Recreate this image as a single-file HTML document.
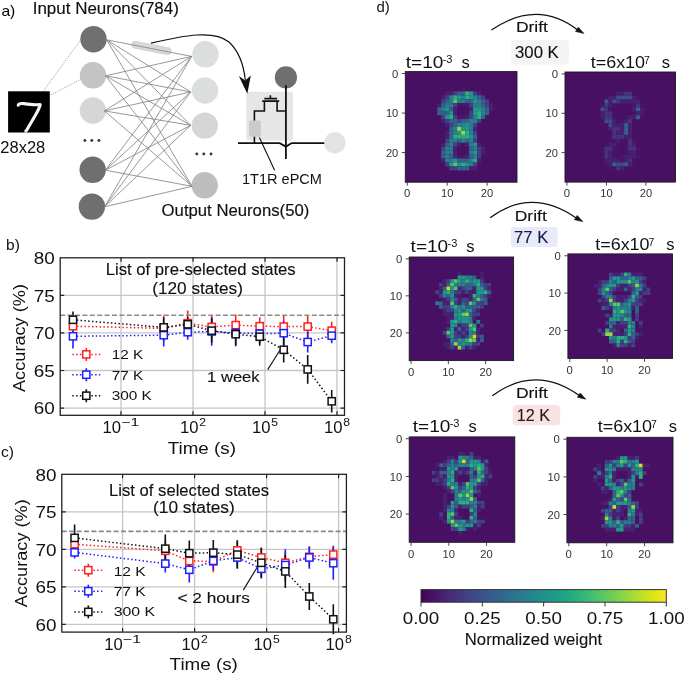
<!DOCTYPE html>
<html><head><meta charset="utf-8"><title>Figure</title>
<style>html,body{margin:0;padding:0;background:#fff;width:685px;height:675px;overflow:hidden}svg{display:block;will-change:transform}text{font-family:"Liberation Sans",sans-serif}</style>
</head><body>
<svg width="685" height="675" viewBox="0 0 685 675" font-family='"Liberation Sans", sans-serif'><text x="1.4" y="15.8" font-size="15.0" fill="#000" text-anchor="start" textLength="13.9" lengthAdjust="spacingAndGlyphs">a)</text>
<text x="32.7" y="13.8" font-size="16.3" fill="#111" text-anchor="start" textLength="146.2" lengthAdjust="spacingAndGlyphs" stroke="#111" stroke-width="0.15">Input Neurons(784)</text>
<line x1="43.8" y1="90.6" x2="80.6" y2="39.9" stroke="#8a8a8a" stroke-width="0.8" stroke-dasharray="1.3 1.3"/>
<line x1="50.5" y1="95.2" x2="82.2" y2="78.5" stroke="#8a8a8a" stroke-width="0.8" stroke-dasharray="1.3 1.3"/>
<rect x="8.1" y="91.3" width="41.7" height="41.2" fill="#000"/>
<path d="M18.2,105.2 C18.5,103.5 21,103.2 24,103.6 C28,104.2 32,104.8 36,104.7 L40.2,104.6 C39.6,107.5 37.5,111.5 35.5,115 C33,119.5 30.5,123.5 28.5,127 C27.5,129 26.5,130.5 25.8,131" fill="none" stroke="#f4f4f4" stroke-width="3.1" stroke-linecap="round" stroke-linejoin="round"/>
<text x="0.3" y="153.3" font-size="16.3" fill="#111" text-anchor="start" textLength="45.0" lengthAdjust="spacingAndGlyphs">28x28</text>
<circle cx="93.5" cy="39.2" r="13.2" fill="#6f706f"/>
<circle cx="93.0" cy="75.3" r="13.2" fill="#c4c4c4"/>
<circle cx="92.9" cy="110.5" r="13.2" fill="#d6d6d6"/>
<circle cx="92.7" cy="169.8" r="13.2" fill="#6e6f6e"/>
<circle cx="91.9" cy="206.6" r="13.2" fill="#6e6f6e"/>
<circle cx="205.5" cy="54.3" r="13.2" fill="#dcdddd"/>
<circle cx="205.0" cy="90.5" r="13.2" fill="#dcdddd"/>
<circle cx="204.8" cy="125.6" r="13.2" fill="#d6d6d6"/>
<circle cx="204.7" cy="185.3" r="13.2" fill="#bebebe"/>
<rect x="131.5" y="44.5" width="40" height="7" rx="3.5" fill="#d8d8d8" stroke="#c8c8c8" stroke-width="0.6" transform="rotate(11.06 151.5 48)"/>
<line x1="106.7" y1="39.8" x2="191.6" y2="56.4" stroke="#858585" stroke-width="0.85"/>
<line x1="106.7" y1="39.8" x2="190.7" y2="92.0" stroke="#858585" stroke-width="0.85"/>
<line x1="106.7" y1="39.8" x2="190.7" y2="125.3" stroke="#858585" stroke-width="0.85"/>
<line x1="106.7" y1="39.8" x2="192.0" y2="186.3" stroke="#858585" stroke-width="0.85"/>
<line x1="105.6" y1="75.8" x2="191.6" y2="56.4" stroke="#858585" stroke-width="0.85"/>
<line x1="105.6" y1="75.8" x2="190.7" y2="92.0" stroke="#858585" stroke-width="0.85"/>
<line x1="105.6" y1="75.8" x2="190.7" y2="125.3" stroke="#858585" stroke-width="0.85"/>
<line x1="105.6" y1="75.8" x2="192.0" y2="186.3" stroke="#858585" stroke-width="0.85"/>
<line x1="104.4" y1="110.9" x2="191.6" y2="56.4" stroke="#858585" stroke-width="0.85"/>
<line x1="104.4" y1="110.9" x2="190.7" y2="92.0" stroke="#858585" stroke-width="0.85"/>
<line x1="104.4" y1="110.9" x2="190.7" y2="125.3" stroke="#858585" stroke-width="0.85"/>
<line x1="104.4" y1="110.9" x2="192.0" y2="186.3" stroke="#858585" stroke-width="0.85"/>
<line x1="105.4" y1="170.2" x2="191.6" y2="56.4" stroke="#858585" stroke-width="0.85"/>
<line x1="105.4" y1="170.2" x2="190.7" y2="92.0" stroke="#858585" stroke-width="0.85"/>
<line x1="105.4" y1="170.2" x2="190.7" y2="125.3" stroke="#858585" stroke-width="0.85"/>
<line x1="105.4" y1="170.2" x2="192.0" y2="186.3" stroke="#858585" stroke-width="0.85"/>
<line x1="104.6" y1="206.8" x2="191.6" y2="56.4" stroke="#858585" stroke-width="0.85"/>
<line x1="104.6" y1="206.8" x2="190.7" y2="92.0" stroke="#858585" stroke-width="0.85"/>
<line x1="104.6" y1="206.8" x2="190.7" y2="125.3" stroke="#858585" stroke-width="0.85"/>
<line x1="104.6" y1="206.8" x2="192.0" y2="186.3" stroke="#858585" stroke-width="0.85"/>
<circle cx="84.9" cy="140.5" r="1.45" fill="#3a3a3a"/>
<circle cx="91.8" cy="140.5" r="1.45" fill="#3a3a3a"/>
<circle cx="98.9" cy="140.5" r="1.45" fill="#3a3a3a"/>
<circle cx="196.8" cy="154.0" r="1.45" fill="#3a3a3a"/>
<circle cx="203.8" cy="154.0" r="1.45" fill="#3a3a3a"/>
<circle cx="211.0" cy="154.0" r="1.45" fill="#3a3a3a"/>
<text x="161.6" y="215.9" font-size="16.2" fill="#111" text-anchor="start" textLength="147.7" lengthAdjust="spacingAndGlyphs" stroke="#111" stroke-width="0.15">Output Neurons(50)</text>
<rect x="246.3" y="91.8" width="46.7" height="48.6" rx="2.5" fill="#e6e6e6"/>
<circle cx="285.9" cy="77.4" r="11.1" fill="#6e6f6e"/>
<path d="M238,143.1 H279.7 L285.9,146.6 L291.7,143.1 H328.7" fill="none" stroke="#111" stroke-width="1.8"/>
<path d="M285.9,85.3 V158.9" fill="none" stroke="#111" stroke-width="1.8"/>
<path d="M254.4,143.1 V111 H264.4 V101.1 M262.2,101.1 H279.2 M277.1,101.1 V111 H285.9 M264.4,98.6 H277.1 M270.4,95.2 V98.6" fill="none" stroke="#111" stroke-width="1.6"/>
<rect x="249.0" y="120.4" width="11.8" height="16.3" rx="1.8" fill="#cbcbcb"/>
<line x1="259.4" y1="137.5" x2="274.6" y2="170.3" stroke="#111" stroke-width="1.1"/>
<circle cx="334.9" cy="142.8" r="10.7" fill="#e3e3e3"/>
<text x="242.0" y="183.6" font-size="14.8" fill="#111" text-anchor="start" textLength="79.9" lengthAdjust="spacingAndGlyphs">1T1R ePCM</text>
<path d="M151,43.2 C184,35.5 214,29.5 229,42 C238.5,51 243.5,63 245.3,80" fill="none" stroke="#111" stroke-width="1.2"/>
<path d="M238.8,76.0 L247.3,93.7 L250.8,75.6 L245.2,80.6 Z" fill="#111"/>
<path d="M121.0,257.8V415.3M193.0,257.8V415.3M265.0,257.8V415.3M337.0,257.8V415.3M60.2,408.1H344.5M60.2,370.5H344.5M60.2,332.9H344.5M60.2,295.4H344.5" stroke="#c6c6c6" stroke-width="1.3" fill="none"/>
<path d="M121.0,415.3v-4M121.0,257.8v4M193.0,415.3v-4M193.0,257.8v4M265.0,415.3v-4M265.0,257.8v4M337.0,415.3v-4M337.0,257.8v4M60.2,408.1h4M344.5,408.1h-4M60.2,370.5h4M344.5,370.5h-4M60.2,332.9h4M344.5,332.9h-4M60.2,295.4h4M344.5,295.4h-4" stroke="#222" stroke-width="1.2" fill="none"/>
<text x="105.7" y="274.9" font-size="16.0" fill="#111" text-anchor="start" textLength="190.0" lengthAdjust="spacingAndGlyphs" stroke="#111" stroke-width="0.12">List of pre-selected states</text>
<text x="152.3" y="293.9" font-size="16.0" fill="#111" text-anchor="start" textLength="90.6" lengthAdjust="spacingAndGlyphs" stroke="#111" stroke-width="0.12">(120 states)</text>
<text x="207.1" y="382.3" font-size="14.2" fill="#111" text-anchor="start" textLength="52.5" lengthAdjust="spacingAndGlyphs" stroke="#111" stroke-width="0.12">1 week</text>
<line x1="267.7" y1="369.6" x2="280.4" y2="349.5" stroke="#111" stroke-width="1.1"/>
<path d="M73.0,317.2V335.2M163.7,315.7V341.2M187.7,310.4V336.0M211.7,315.7V338.2M235.7,314.5V335.6M259.7,317.2V335.2M283.7,316.0V337.1M307.7,315.3V337.8M331.7,321.7V339.7" stroke="#ff2020" stroke-width="1.6" fill="none"/>
<path d="M73.0,324.3V348.4M163.7,323.9V346.5M187.7,324.7V339.7M211.7,317.2V345.7M235.7,320.9V345.0M259.7,323.9V343.5M283.7,321.2V345.2M307.7,331.4V352.5M331.7,328.1V343.2" stroke="#1f1fff" stroke-width="1.6" fill="none"/>
<path d="M73.0,311.5V328.1M163.7,317.6V337.2M187.7,316.8V331.8M211.7,318.7V342.7M235.7,322.1V346.2M259.7,327.7V345.7M283.7,337.0V362.6M307.7,355.1V383.7M331.7,390.1V412.6" stroke="#111111" stroke-width="1.6" fill="none"/>
<line x1="60.2" y1="315.3" x2="344.5" y2="315.3" stroke="#8a8a8a" stroke-width="1.6" stroke-dasharray="5.0 2.4"/>
<polyline points="73.0,326.2 163.7,328.4 187.7,323.2 211.7,326.9 235.7,325.1 259.7,326.2 283.7,326.6 307.7,326.6 331.7,330.7" fill="none" stroke="#ff2020" stroke-width="1.5" stroke-dasharray="1.5 2.3"/>
<rect x="69.4" y="322.6" width="7.2" height="7.2" fill="#fff" stroke="#ff2020" stroke-width="1.5"/>
<rect x="160.1" y="324.8" width="7.2" height="7.2" fill="#fff" stroke="#ff2020" stroke-width="1.5"/>
<rect x="184.1" y="319.6" width="7.2" height="7.2" fill="#fff" stroke="#ff2020" stroke-width="1.5"/>
<rect x="208.1" y="323.3" width="7.2" height="7.2" fill="#fff" stroke="#ff2020" stroke-width="1.5"/>
<rect x="232.1" y="321.5" width="7.2" height="7.2" fill="#fff" stroke="#ff2020" stroke-width="1.5"/>
<rect x="256.1" y="322.6" width="7.2" height="7.2" fill="#fff" stroke="#ff2020" stroke-width="1.5"/>
<rect x="280.1" y="323.0" width="7.2" height="7.2" fill="#fff" stroke="#ff2020" stroke-width="1.5"/>
<rect x="304.1" y="323.0" width="7.2" height="7.2" fill="#fff" stroke="#ff2020" stroke-width="1.5"/>
<rect x="328.1" y="327.1" width="7.2" height="7.2" fill="#fff" stroke="#ff2020" stroke-width="1.5"/>
<polyline points="73.0,336.3 163.7,335.2 187.7,332.2 211.7,331.4 235.7,332.9 259.7,333.7 283.7,333.2 307.7,342.0 331.7,335.7" fill="none" stroke="#1f1fff" stroke-width="1.5" stroke-dasharray="1.5 2.3"/>
<rect x="69.4" y="332.7" width="7.2" height="7.2" fill="#fff" stroke="#1f1fff" stroke-width="1.5"/>
<rect x="160.1" y="331.6" width="7.2" height="7.2" fill="#fff" stroke="#1f1fff" stroke-width="1.5"/>
<rect x="184.1" y="328.6" width="7.2" height="7.2" fill="#fff" stroke="#1f1fff" stroke-width="1.5"/>
<rect x="208.1" y="327.8" width="7.2" height="7.2" fill="#fff" stroke="#1f1fff" stroke-width="1.5"/>
<rect x="232.1" y="329.3" width="7.2" height="7.2" fill="#fff" stroke="#1f1fff" stroke-width="1.5"/>
<rect x="256.1" y="330.1" width="7.2" height="7.2" fill="#fff" stroke="#1f1fff" stroke-width="1.5"/>
<rect x="280.1" y="329.6" width="7.2" height="7.2" fill="#fff" stroke="#1f1fff" stroke-width="1.5"/>
<rect x="304.1" y="338.4" width="7.2" height="7.2" fill="#fff" stroke="#1f1fff" stroke-width="1.5"/>
<rect x="328.1" y="332.1" width="7.2" height="7.2" fill="#fff" stroke="#1f1fff" stroke-width="1.5"/>
<polyline points="73.0,319.8 163.7,327.4 187.7,324.3 211.7,330.7 235.7,334.2 259.7,336.7 283.7,349.8 307.7,369.4 331.7,401.3" fill="none" stroke="#111111" stroke-width="1.5" stroke-dasharray="1.5 2.3"/>
<rect x="69.4" y="316.2" width="7.2" height="7.2" fill="#fff" stroke="#111111" stroke-width="1.5"/>
<rect x="160.1" y="323.8" width="7.2" height="7.2" fill="#fff" stroke="#111111" stroke-width="1.5"/>
<rect x="184.1" y="320.7" width="7.2" height="7.2" fill="#fff" stroke="#111111" stroke-width="1.5"/>
<rect x="208.1" y="327.1" width="7.2" height="7.2" fill="#fff" stroke="#111111" stroke-width="1.5"/>
<rect x="232.1" y="330.6" width="7.2" height="7.2" fill="#fff" stroke="#111111" stroke-width="1.5"/>
<rect x="256.1" y="333.1" width="7.2" height="7.2" fill="#fff" stroke="#111111" stroke-width="1.5"/>
<rect x="280.1" y="346.2" width="7.2" height="7.2" fill="#fff" stroke="#111111" stroke-width="1.5"/>
<rect x="304.1" y="365.8" width="7.2" height="7.2" fill="#fff" stroke="#111111" stroke-width="1.5"/>
<rect x="328.1" y="397.7" width="7.2" height="7.2" fill="#fff" stroke="#111111" stroke-width="1.5"/>
<rect x="60.2" y="257.8" width="284.3" height="157.5" fill="none" stroke="#222" stroke-width="1.3"/>
<line x1="72.3" y1="354.4" x2="100.3" y2="354.4" stroke="#ff2020" stroke-width="1.5" stroke-dasharray="1.5 2.3"/>
<line x1="86.3" y1="347.9" x2="86.3" y2="360.9" stroke="#ff2020" stroke-width="1.6"/>
<rect x="82.7" y="350.8" width="7.2" height="7.2" fill="#fff" stroke="#ff2020" stroke-width="1.5"/>
<text x="111.7" y="359.3" font-size="13.6" fill="#111" text-anchor="start" textLength="31.4" lengthAdjust="spacingAndGlyphs">12 K</text>
<line x1="72.3" y1="374.7" x2="100.3" y2="374.7" stroke="#1f1fff" stroke-width="1.5" stroke-dasharray="1.5 2.3"/>
<line x1="86.3" y1="368.2" x2="86.3" y2="381.2" stroke="#1f1fff" stroke-width="1.6"/>
<rect x="82.7" y="371.1" width="7.2" height="7.2" fill="#fff" stroke="#1f1fff" stroke-width="1.5"/>
<text x="111.7" y="379.8" font-size="13.6" fill="#111" text-anchor="start" textLength="31.4" lengthAdjust="spacingAndGlyphs">77 K</text>
<line x1="72.3" y1="395.7" x2="100.3" y2="395.7" stroke="#111111" stroke-width="1.5" stroke-dasharray="1.5 2.3"/>
<line x1="86.3" y1="389.2" x2="86.3" y2="402.2" stroke="#111111" stroke-width="1.6"/>
<rect x="82.7" y="392.1" width="7.2" height="7.2" fill="#fff" stroke="#111111" stroke-width="1.5"/>
<text x="111.7" y="400.1" font-size="13.6" fill="#111" text-anchor="start" textLength="40.2" lengthAdjust="spacingAndGlyphs">300 K</text>
<text x="54.8" y="414.3" font-size="16.0" fill="#111" text-anchor="end" textLength="21.0" lengthAdjust="spacingAndGlyphs">60</text>
<text x="54.8" y="376.7" font-size="16.0" fill="#111" text-anchor="end" textLength="21.0" lengthAdjust="spacingAndGlyphs">65</text>
<text x="54.8" y="339.1" font-size="16.0" fill="#111" text-anchor="end" textLength="21.0" lengthAdjust="spacingAndGlyphs">70</text>
<text x="54.8" y="301.6" font-size="16.0" fill="#111" text-anchor="end" textLength="21.0" lengthAdjust="spacingAndGlyphs">75</text>
<text x="54.8" y="264.0" font-size="16.0" fill="#111" text-anchor="end" textLength="21.0" lengthAdjust="spacingAndGlyphs">80</text>
<text x="102.6" y="432.8" font-size="16" fill="#111" textLength="18.5" lengthAdjust="spacingAndGlyphs">10</text>
<text x="121.4" y="426.3" font-size="11.5" fill="#111" textLength="18" lengthAdjust="spacingAndGlyphs">−1</text>
<text x="179.9" y="432.8" font-size="16" fill="#111" textLength="18.5" lengthAdjust="spacingAndGlyphs">10</text>
<text x="199.3" y="426.3" font-size="11.5" fill="#111" textLength="6.8" lengthAdjust="spacingAndGlyphs">2</text>
<text x="251.9" y="432.8" font-size="16" fill="#111" textLength="18.5" lengthAdjust="spacingAndGlyphs">10</text>
<text x="271.3" y="426.3" font-size="11.5" fill="#111" textLength="6.8" lengthAdjust="spacingAndGlyphs">5</text>
<text x="323.9" y="432.8" font-size="16" fill="#111" textLength="18.5" lengthAdjust="spacingAndGlyphs">10</text>
<text x="343.3" y="426.3" font-size="11.5" fill="#111" textLength="6.8" lengthAdjust="spacingAndGlyphs">8</text>
<text x="167.7" y="454.1" font-size="16.0" fill="#111" text-anchor="start" textLength="68.2" lengthAdjust="spacingAndGlyphs">Time (s)</text>
<text transform="translate(24.8,392.0) rotate(-90)" font-size="16.5" fill="#111" textLength="108.0" lengthAdjust="spacingAndGlyphs">Accuracy (%)</text>
<text x="6.0" y="249.6" font-size="14.0" fill="#111" text-anchor="start" textLength="13.8" lengthAdjust="spacingAndGlyphs">b)</text>
<path d="M122.6,474.3V632.1M194.6,474.3V632.1M266.6,474.3V632.1M338.6,474.3V632.1M61.8,624.3H346.4M61.8,586.8H346.4M61.8,549.3H346.4M61.8,511.8H346.4" stroke="#c6c6c6" stroke-width="1.3" fill="none"/>
<path d="M122.6,632.1v-4M122.6,474.3v4M194.6,632.1v-4M194.6,474.3v4M266.6,632.1v-4M266.6,474.3v4M338.6,632.1v-4M338.6,474.3v4M61.8,624.3h4M346.4,624.3h-4M61.8,586.8h4M346.4,586.8h-4M61.8,549.3h4M346.4,549.3h-4M61.8,511.8h4M346.4,511.8h-4" stroke="#222" stroke-width="1.2" fill="none"/>
<text x="109.1" y="496.0" font-size="16.0" fill="#111" text-anchor="start" textLength="159.9" lengthAdjust="spacingAndGlyphs" stroke="#111" stroke-width="0.12">List of selected states</text>
<text x="153.0" y="513.1" font-size="16.0" fill="#111" text-anchor="start" textLength="81.8" lengthAdjust="spacingAndGlyphs" stroke="#111" stroke-width="0.12">(10 states)</text>
<text x="177.4" y="603.2" font-size="14.2" fill="#111" text-anchor="start" textLength="72.4" lengthAdjust="spacingAndGlyphs" stroke="#111" stroke-width="0.12">&lt; 2 hours</text>
<line x1="243.3" y1="590.1" x2="258.9" y2="564.4" stroke="#111" stroke-width="1.1"/>
<path d="M74.6,535.2V553.2M165.3,539.6V562.1M189.3,549.8V572.2M213.3,550.3V572.3M237.3,540.7V560.2M261.3,547.8V567.3M285.3,552.3V573.3M309.3,547.1V566.5M333.3,545.5V563.6" stroke="#ff2020" stroke-width="1.6" fill="none"/>
<path d="M74.6,546.4V558.4M165.3,554.6V572.6M189.3,557.0V582.5M213.3,551.9V569.9M237.3,547.0V568.0M261.3,559.0V578.5M285.3,549.3V580.8M309.3,546.3V568.8M333.3,546.7V579.7" stroke="#1f1fff" stroke-width="1.6" fill="none"/>
<path d="M74.6,524.4V551.4M165.3,534.4V563.0M189.3,540.4V566.0M213.3,539.9V565.4M237.3,540.3V568.8M261.3,547.8V577.8M285.3,554.9V587.9M309.3,583.0V610.0M333.3,604.3V634.3" stroke="#111111" stroke-width="1.6" fill="none"/>
<line x1="61.8" y1="531.4" x2="346.4" y2="531.4" stroke="#8a8a8a" stroke-width="1.6" stroke-dasharray="5.0 2.4"/>
<polyline points="74.6,544.2 165.3,550.8 189.3,561.0 213.3,561.3 237.3,550.4 261.3,557.5 285.3,562.8 309.3,556.8 333.3,554.6" fill="none" stroke="#ff2020" stroke-width="1.5" stroke-dasharray="1.5 2.3"/>
<rect x="71.0" y="540.6" width="7.2" height="7.2" fill="#fff" stroke="#ff2020" stroke-width="1.5"/>
<rect x="161.7" y="547.2" width="7.2" height="7.2" fill="#fff" stroke="#ff2020" stroke-width="1.5"/>
<rect x="185.7" y="557.4" width="7.2" height="7.2" fill="#fff" stroke="#ff2020" stroke-width="1.5"/>
<rect x="209.7" y="557.7" width="7.2" height="7.2" fill="#fff" stroke="#ff2020" stroke-width="1.5"/>
<rect x="233.7" y="546.8" width="7.2" height="7.2" fill="#fff" stroke="#ff2020" stroke-width="1.5"/>
<rect x="257.7" y="553.9" width="7.2" height="7.2" fill="#fff" stroke="#ff2020" stroke-width="1.5"/>
<rect x="281.7" y="559.2" width="7.2" height="7.2" fill="#fff" stroke="#ff2020" stroke-width="1.5"/>
<rect x="305.7" y="553.2" width="7.2" height="7.2" fill="#fff" stroke="#ff2020" stroke-width="1.5"/>
<rect x="329.7" y="551.0" width="7.2" height="7.2" fill="#fff" stroke="#ff2020" stroke-width="1.5"/>
<polyline points="74.6,552.4 165.3,563.6 189.3,569.8 213.3,560.9 237.3,557.5 261.3,568.8 285.3,565.0 309.3,557.5 333.3,563.2" fill="none" stroke="#1f1fff" stroke-width="1.5" stroke-dasharray="1.5 2.3"/>
<rect x="71.0" y="548.8" width="7.2" height="7.2" fill="#fff" stroke="#1f1fff" stroke-width="1.5"/>
<rect x="161.7" y="560.0" width="7.2" height="7.2" fill="#fff" stroke="#1f1fff" stroke-width="1.5"/>
<rect x="185.7" y="566.2" width="7.2" height="7.2" fill="#fff" stroke="#1f1fff" stroke-width="1.5"/>
<rect x="209.7" y="557.3" width="7.2" height="7.2" fill="#fff" stroke="#1f1fff" stroke-width="1.5"/>
<rect x="233.7" y="553.9" width="7.2" height="7.2" fill="#fff" stroke="#1f1fff" stroke-width="1.5"/>
<rect x="257.7" y="565.2" width="7.2" height="7.2" fill="#fff" stroke="#1f1fff" stroke-width="1.5"/>
<rect x="281.7" y="561.4" width="7.2" height="7.2" fill="#fff" stroke="#1f1fff" stroke-width="1.5"/>
<rect x="305.7" y="553.9" width="7.2" height="7.2" fill="#fff" stroke="#1f1fff" stroke-width="1.5"/>
<rect x="329.7" y="559.6" width="7.2" height="7.2" fill="#fff" stroke="#1f1fff" stroke-width="1.5"/>
<polyline points="74.6,537.9 165.3,548.7 189.3,553.2 213.3,552.7 237.3,554.6 261.3,562.8 285.3,571.4 309.3,596.5 333.3,619.3" fill="none" stroke="#111111" stroke-width="1.5" stroke-dasharray="1.5 2.3"/>
<rect x="71.0" y="534.3" width="7.2" height="7.2" fill="#fff" stroke="#111111" stroke-width="1.5"/>
<rect x="161.7" y="545.1" width="7.2" height="7.2" fill="#fff" stroke="#111111" stroke-width="1.5"/>
<rect x="185.7" y="549.6" width="7.2" height="7.2" fill="#fff" stroke="#111111" stroke-width="1.5"/>
<rect x="209.7" y="549.1" width="7.2" height="7.2" fill="#fff" stroke="#111111" stroke-width="1.5"/>
<rect x="233.7" y="551.0" width="7.2" height="7.2" fill="#fff" stroke="#111111" stroke-width="1.5"/>
<rect x="257.7" y="559.2" width="7.2" height="7.2" fill="#fff" stroke="#111111" stroke-width="1.5"/>
<rect x="281.7" y="567.8" width="7.2" height="7.2" fill="#fff" stroke="#111111" stroke-width="1.5"/>
<rect x="305.7" y="592.9" width="7.2" height="7.2" fill="#fff" stroke="#111111" stroke-width="1.5"/>
<rect x="329.7" y="615.7" width="7.2" height="7.2" fill="#fff" stroke="#111111" stroke-width="1.5"/>
<rect x="61.8" y="474.3" width="284.6" height="157.8" fill="none" stroke="#222" stroke-width="1.3"/>
<line x1="74.3" y1="570.2" x2="102.3" y2="570.2" stroke="#ff2020" stroke-width="1.5" stroke-dasharray="1.5 2.3"/>
<line x1="88.3" y1="563.7" x2="88.3" y2="576.7" stroke="#ff2020" stroke-width="1.6"/>
<rect x="84.7" y="566.6" width="7.2" height="7.2" fill="#fff" stroke="#ff2020" stroke-width="1.5"/>
<text x="113.7" y="575.9" font-size="13.6" fill="#111" text-anchor="start" textLength="32.1" lengthAdjust="spacingAndGlyphs">12 K</text>
<line x1="74.3" y1="591.2" x2="102.3" y2="591.2" stroke="#1f1fff" stroke-width="1.5" stroke-dasharray="1.5 2.3"/>
<line x1="88.3" y1="584.7" x2="88.3" y2="597.7" stroke="#1f1fff" stroke-width="1.6"/>
<rect x="84.7" y="587.6" width="7.2" height="7.2" fill="#fff" stroke="#1f1fff" stroke-width="1.5"/>
<text x="113.7" y="596.2" font-size="13.6" fill="#111" text-anchor="start" textLength="32.1" lengthAdjust="spacingAndGlyphs">77 K</text>
<line x1="74.3" y1="611.9" x2="102.3" y2="611.9" stroke="#111111" stroke-width="1.5" stroke-dasharray="1.5 2.3"/>
<line x1="88.3" y1="605.4" x2="88.3" y2="618.4" stroke="#111111" stroke-width="1.6"/>
<rect x="84.7" y="608.3" width="7.2" height="7.2" fill="#fff" stroke="#111111" stroke-width="1.5"/>
<text x="113.7" y="616.1" font-size="13.6" fill="#111" text-anchor="start" textLength="41.4" lengthAdjust="spacingAndGlyphs">300 K</text>
<text x="56.6" y="630.5" font-size="16.0" fill="#111" text-anchor="end" textLength="21.0" lengthAdjust="spacingAndGlyphs">60</text>
<text x="56.6" y="593.0" font-size="16.0" fill="#111" text-anchor="end" textLength="21.0" lengthAdjust="spacingAndGlyphs">65</text>
<text x="56.6" y="555.5" font-size="16.0" fill="#111" text-anchor="end" textLength="21.0" lengthAdjust="spacingAndGlyphs">70</text>
<text x="56.6" y="518.0" font-size="16.0" fill="#111" text-anchor="end" textLength="21.0" lengthAdjust="spacingAndGlyphs">75</text>
<text x="56.6" y="480.5" font-size="16.0" fill="#111" text-anchor="end" textLength="21.0" lengthAdjust="spacingAndGlyphs">80</text>
<text x="104.2" y="649.9" font-size="16" fill="#111" textLength="18.5" lengthAdjust="spacingAndGlyphs">10</text>
<text x="123.0" y="643.4" font-size="11.5" fill="#111" textLength="18" lengthAdjust="spacingAndGlyphs">−1</text>
<text x="181.5" y="649.9" font-size="16" fill="#111" textLength="18.5" lengthAdjust="spacingAndGlyphs">10</text>
<text x="200.9" y="643.4" font-size="11.5" fill="#111" textLength="6.8" lengthAdjust="spacingAndGlyphs">2</text>
<text x="253.5" y="649.9" font-size="16" fill="#111" textLength="18.5" lengthAdjust="spacingAndGlyphs">10</text>
<text x="272.9" y="643.4" font-size="11.5" fill="#111" textLength="6.8" lengthAdjust="spacingAndGlyphs">5</text>
<text x="325.5" y="649.9" font-size="16" fill="#111" textLength="18.5" lengthAdjust="spacingAndGlyphs">10</text>
<text x="344.9" y="643.4" font-size="11.5" fill="#111" textLength="6.8" lengthAdjust="spacingAndGlyphs">8</text>
<text x="169.6" y="670.2" font-size="16.0" fill="#111" text-anchor="start" textLength="68.2" lengthAdjust="spacingAndGlyphs">Time (s)</text>
<text transform="translate(26.5,607.2) rotate(-90)" font-size="16.5" fill="#111" textLength="108.0" lengthAdjust="spacingAndGlyphs">Accuracy (%)</text>
<text x="0.9" y="457.0" font-size="14.0" fill="#111" text-anchor="start" textLength="13.0" lengthAdjust="spacingAndGlyphs">c)</text>
<text x="376.4" y="12.4" font-size="14.0" fill="#111" text-anchor="start" textLength="13.3" lengthAdjust="spacingAndGlyphs">d)</text>
<path d="M491.4,30.1 Q537.3,-1.4 578.1,30.3" fill="none" stroke="#111" stroke-width="1.25"/>
<path d="M583.9,33.4 L578.3,27.2 L575.5,31.4 Z" fill="#111" stroke="#111" stroke-width="0.6" stroke-linejoin="round"/>
<text x="515.9" y="32.1" font-size="15.3" fill="#111" text-anchor="start" textLength="32.1" lengthAdjust="spacingAndGlyphs" stroke="#111" stroke-width="0.12">Drift</text>
<rect x="511.2" y="39.9" width="57.8" height="24.6" rx="3.5" fill="#f4f4f4"/>
<text x="515.0" y="57.5" font-size="16.0" fill="#111" text-anchor="start" textLength="43.8" lengthAdjust="spacingAndGlyphs" stroke="#111" stroke-width="0.12">300 K</text>
<text x="405.8" y="67.7" font-size="16.5" fill="#111" textLength="37.6" lengthAdjust="spacingAndGlyphs">t=10</text>
<text x="442.7" y="63.4" font-size="10.5" fill="#111" textLength="9.8" lengthAdjust="spacingAndGlyphs">-3</text>
<text x="461.4" y="67.7" font-size="16.5" fill="#111">s</text>
<text x="590.7" y="68.0" font-size="16.5" fill="#111" textLength="54.4" lengthAdjust="spacingAndGlyphs">t=6x10</text>
<text x="644.1" y="63.6" font-size="10" fill="#111" textLength="5.8" lengthAdjust="spacingAndGlyphs">7</text>
<text x="661.7" y="68.0" font-size="16.5" fill="#111">s</text>
<rect x="405.30" y="71.60" width="111.70" height="110.60" fill="#471063"/>
<rect x="461.15" y="87.40" width="4.04" height="4.00" fill="#481769"/><rect x="445.19" y="91.35" width="4.04" height="4.00" fill="#482173"/><rect x="449.18" y="91.35" width="4.04" height="4.00" fill="#482173"/><rect x="453.17" y="91.35" width="4.04" height="4.00" fill="#424086"/><rect x="457.16" y="91.35" width="4.04" height="4.00" fill="#33628d"/><rect x="461.15" y="91.35" width="4.04" height="4.00" fill="#33628d"/><rect x="465.14" y="91.35" width="4.04" height="4.00" fill="#2cb17e"/><rect x="469.13" y="91.35" width="4.04" height="4.00" fill="#1f9a8a"/><rect x="473.12" y="91.35" width="4.04" height="4.00" fill="#424086"/><rect x="477.11" y="91.35" width="4.04" height="4.00" fill="#482173"/><rect x="441.20" y="95.30" width="4.04" height="4.00" fill="#482173"/><rect x="445.19" y="95.30" width="4.04" height="4.00" fill="#424086"/><rect x="449.18" y="95.30" width="4.04" height="4.00" fill="#27808e"/><rect x="453.17" y="95.30" width="4.04" height="4.00" fill="#2cb17e"/><rect x="457.16" y="95.30" width="4.04" height="4.00" fill="#1f9a8a"/><rect x="461.15" y="95.30" width="4.04" height="4.00" fill="#27808e"/><rect x="465.14" y="95.30" width="4.04" height="4.00" fill="#2cb17e"/><rect x="469.13" y="95.30" width="4.04" height="4.00" fill="#1f9a8a"/><rect x="473.12" y="95.30" width="4.04" height="4.00" fill="#27808e"/><rect x="477.11" y="95.30" width="4.04" height="4.00" fill="#33628d"/><rect x="481.10" y="95.30" width="4.04" height="4.00" fill="#424086"/><rect x="441.20" y="99.25" width="4.04" height="4.00" fill="#424086"/><rect x="445.19" y="99.25" width="4.04" height="4.00" fill="#33628d"/><rect x="449.18" y="99.25" width="4.04" height="4.00" fill="#27808e"/><rect x="453.17" y="99.25" width="4.04" height="4.00" fill="#58c765"/><rect x="457.16" y="99.25" width="4.04" height="4.00" fill="#27808e"/><rect x="461.15" y="99.25" width="4.04" height="4.00" fill="#27808e"/><rect x="465.14" y="99.25" width="4.04" height="4.00" fill="#33628d"/><rect x="469.13" y="99.25" width="4.04" height="4.00" fill="#33628d"/><rect x="473.12" y="99.25" width="4.04" height="4.00" fill="#1f9a8a"/><rect x="477.11" y="99.25" width="4.04" height="4.00" fill="#27808e"/><rect x="481.10" y="99.25" width="4.04" height="4.00" fill="#33628d"/><rect x="485.09" y="99.25" width="4.04" height="4.00" fill="#424086"/><rect x="437.21" y="103.20" width="4.04" height="4.00" fill="#482173"/><rect x="441.20" y="103.20" width="4.04" height="4.00" fill="#33628d"/><rect x="445.19" y="103.20" width="4.04" height="4.00" fill="#27808e"/><rect x="449.18" y="103.20" width="4.04" height="4.00" fill="#27808e"/><rect x="453.17" y="103.20" width="4.04" height="4.00" fill="#424086"/><rect x="457.16" y="103.20" width="4.04" height="4.00" fill="#481769"/><rect x="461.15" y="103.20" width="4.04" height="4.00" fill="#481769"/><rect x="465.14" y="103.20" width="4.04" height="4.00" fill="#481769"/><rect x="469.13" y="103.20" width="4.04" height="4.00" fill="#424086"/><rect x="473.12" y="103.20" width="4.04" height="4.00" fill="#27808e"/><rect x="477.11" y="103.20" width="4.04" height="4.00" fill="#27808e"/><rect x="481.10" y="103.20" width="4.04" height="4.00" fill="#33628d"/><rect x="485.09" y="103.20" width="4.04" height="4.00" fill="#424086"/><rect x="489.07" y="103.20" width="4.04" height="4.00" fill="#482173"/><rect x="437.21" y="107.15" width="4.04" height="4.00" fill="#33628d"/><rect x="441.20" y="107.15" width="4.04" height="4.00" fill="#27808e"/><rect x="445.19" y="107.15" width="4.04" height="4.00" fill="#1f9a8a"/><rect x="449.18" y="107.15" width="4.04" height="4.00" fill="#33628d"/><rect x="453.17" y="107.15" width="4.04" height="4.00" fill="#482173"/><rect x="469.13" y="107.15" width="4.04" height="4.00" fill="#482173"/><rect x="473.12" y="107.15" width="4.04" height="4.00" fill="#1f9a8a"/><rect x="477.11" y="107.15" width="4.04" height="4.00" fill="#1f9a8a"/><rect x="481.10" y="107.15" width="4.04" height="4.00" fill="#27808e"/><rect x="485.09" y="107.15" width="4.04" height="4.00" fill="#33628d"/><rect x="489.07" y="107.15" width="4.04" height="4.00" fill="#482173"/><rect x="437.21" y="111.10" width="4.04" height="4.00" fill="#33628d"/><rect x="441.20" y="111.10" width="4.04" height="4.00" fill="#33628d"/><rect x="445.19" y="111.10" width="4.04" height="4.00" fill="#33628d"/><rect x="449.18" y="111.10" width="4.04" height="4.00" fill="#1f9a8a"/><rect x="453.17" y="111.10" width="4.04" height="4.00" fill="#482173"/><rect x="469.13" y="111.10" width="4.04" height="4.00" fill="#424086"/><rect x="473.12" y="111.10" width="4.04" height="4.00" fill="#1f9a8a"/><rect x="477.11" y="111.10" width="4.04" height="4.00" fill="#2cb17e"/><rect x="481.10" y="111.10" width="4.04" height="4.00" fill="#27808e"/><rect x="485.09" y="111.10" width="4.04" height="4.00" fill="#33628d"/><rect x="441.20" y="115.05" width="4.04" height="4.00" fill="#424086"/><rect x="445.19" y="115.05" width="4.04" height="4.00" fill="#1f9a8a"/><rect x="449.18" y="115.05" width="4.04" height="4.00" fill="#2cb17e"/><rect x="453.17" y="115.05" width="4.04" height="4.00" fill="#424086"/><rect x="457.16" y="115.05" width="4.04" height="4.00" fill="#481769"/><rect x="461.15" y="115.05" width="4.04" height="4.00" fill="#481769"/><rect x="465.14" y="115.05" width="4.04" height="4.00" fill="#482173"/><rect x="469.13" y="115.05" width="4.04" height="4.00" fill="#424086"/><rect x="473.12" y="115.05" width="4.04" height="4.00" fill="#27808e"/><rect x="477.11" y="115.05" width="4.04" height="4.00" fill="#2cb17e"/><rect x="481.10" y="115.05" width="4.04" height="4.00" fill="#33628d"/><rect x="441.20" y="119.00" width="4.04" height="4.00" fill="#482173"/><rect x="445.19" y="119.00" width="4.04" height="4.00" fill="#424086"/><rect x="449.18" y="119.00" width="4.04" height="4.00" fill="#33628d"/><rect x="453.17" y="119.00" width="4.04" height="4.00" fill="#33628d"/><rect x="457.16" y="119.00" width="4.04" height="4.00" fill="#424086"/><rect x="461.15" y="119.00" width="4.04" height="4.00" fill="#33628d"/><rect x="465.14" y="119.00" width="4.04" height="4.00" fill="#33628d"/><rect x="469.13" y="119.00" width="4.04" height="4.00" fill="#27808e"/><rect x="473.12" y="119.00" width="4.04" height="4.00" fill="#27808e"/><rect x="477.11" y="119.00" width="4.04" height="4.00" fill="#424086"/><rect x="445.19" y="122.95" width="4.04" height="4.00" fill="#482173"/><rect x="449.18" y="122.95" width="4.04" height="4.00" fill="#424086"/><rect x="453.17" y="122.95" width="4.04" height="4.00" fill="#33628d"/><rect x="457.16" y="122.95" width="4.04" height="4.00" fill="#27808e"/><rect x="461.15" y="122.95" width="4.04" height="4.00" fill="#27808e"/><rect x="465.14" y="122.95" width="4.04" height="4.00" fill="#1f9a8a"/><rect x="469.13" y="122.95" width="4.04" height="4.00" fill="#27808e"/><rect x="473.12" y="122.95" width="4.04" height="4.00" fill="#424086"/><rect x="449.18" y="126.90" width="4.04" height="4.00" fill="#33628d"/><rect x="453.17" y="126.90" width="4.04" height="4.00" fill="#27808e"/><rect x="457.16" y="126.90" width="4.04" height="4.00" fill="#95d840"/><rect x="461.15" y="126.90" width="4.04" height="4.00" fill="#1f9a8a"/><rect x="465.14" y="126.90" width="4.04" height="4.00" fill="#1f9a8a"/><rect x="469.13" y="126.90" width="4.04" height="4.00" fill="#27808e"/><rect x="473.12" y="126.90" width="4.04" height="4.00" fill="#482173"/><rect x="445.19" y="130.85" width="4.04" height="4.00" fill="#482173"/><rect x="449.18" y="130.85" width="4.04" height="4.00" fill="#33628d"/><rect x="453.17" y="130.85" width="4.04" height="4.00" fill="#27808e"/><rect x="457.16" y="130.85" width="4.04" height="4.00" fill="#1f9a8a"/><rect x="461.15" y="130.85" width="4.04" height="4.00" fill="#95d840"/><rect x="465.14" y="130.85" width="4.04" height="4.00" fill="#2cb17e"/><rect x="469.13" y="130.85" width="4.04" height="4.00" fill="#27808e"/><rect x="473.12" y="130.85" width="4.04" height="4.00" fill="#424086"/><rect x="445.19" y="134.80" width="4.04" height="4.00" fill="#482173"/><rect x="449.18" y="134.80" width="4.04" height="4.00" fill="#33628d"/><rect x="453.17" y="134.80" width="4.04" height="4.00" fill="#2cb17e"/><rect x="457.16" y="134.80" width="4.04" height="4.00" fill="#2cb17e"/><rect x="461.15" y="134.80" width="4.04" height="4.00" fill="#2cb17e"/><rect x="465.14" y="134.80" width="4.04" height="4.00" fill="#2cb17e"/><rect x="469.13" y="134.80" width="4.04" height="4.00" fill="#1f9a8a"/><rect x="473.12" y="134.80" width="4.04" height="4.00" fill="#33628d"/><rect x="445.19" y="138.75" width="4.04" height="4.00" fill="#424086"/><rect x="449.18" y="138.75" width="4.04" height="4.00" fill="#27808e"/><rect x="453.17" y="138.75" width="4.04" height="4.00" fill="#27808e"/><rect x="457.16" y="138.75" width="4.04" height="4.00" fill="#33628d"/><rect x="461.15" y="138.75" width="4.04" height="4.00" fill="#27808e"/><rect x="465.14" y="138.75" width="4.04" height="4.00" fill="#33628d"/><rect x="469.13" y="138.75" width="4.04" height="4.00" fill="#27808e"/><rect x="473.12" y="138.75" width="4.04" height="4.00" fill="#424086"/><rect x="441.20" y="142.70" width="4.04" height="4.00" fill="#482173"/><rect x="445.19" y="142.70" width="4.04" height="4.00" fill="#33628d"/><rect x="449.18" y="142.70" width="4.04" height="4.00" fill="#27808e"/><rect x="453.17" y="142.70" width="4.04" height="4.00" fill="#424086"/><rect x="457.16" y="142.70" width="4.04" height="4.00" fill="#482173"/><rect x="465.14" y="142.70" width="4.04" height="4.00" fill="#482173"/><rect x="469.13" y="142.70" width="4.04" height="4.00" fill="#27808e"/><rect x="473.12" y="142.70" width="4.04" height="4.00" fill="#1f9a8a"/><rect x="477.11" y="142.70" width="4.04" height="4.00" fill="#482173"/><rect x="441.20" y="146.65" width="4.04" height="4.00" fill="#424086"/><rect x="445.19" y="146.65" width="4.04" height="4.00" fill="#27808e"/><rect x="449.18" y="146.65" width="4.04" height="4.00" fill="#27808e"/><rect x="453.17" y="146.65" width="4.04" height="4.00" fill="#482173"/><rect x="469.13" y="146.65" width="4.04" height="4.00" fill="#33628d"/><rect x="473.12" y="146.65" width="4.04" height="4.00" fill="#27808e"/><rect x="477.11" y="146.65" width="4.04" height="4.00" fill="#424086"/><rect x="481.10" y="146.65" width="4.04" height="4.00" fill="#482173"/><rect x="441.20" y="150.60" width="4.04" height="4.00" fill="#33628d"/><rect x="445.19" y="150.60" width="4.04" height="4.00" fill="#27808e"/><rect x="449.18" y="150.60" width="4.04" height="4.00" fill="#27808e"/><rect x="453.17" y="150.60" width="4.04" height="4.00" fill="#482173"/><rect x="465.14" y="150.60" width="4.04" height="4.00" fill="#481769"/><rect x="469.13" y="150.60" width="4.04" height="4.00" fill="#27808e"/><rect x="473.12" y="150.60" width="4.04" height="4.00" fill="#1f9a8a"/><rect x="477.11" y="150.60" width="4.04" height="4.00" fill="#424086"/><rect x="481.10" y="150.60" width="4.04" height="4.00" fill="#482173"/><rect x="441.20" y="154.55" width="4.04" height="4.00" fill="#33628d"/><rect x="445.19" y="154.55" width="4.04" height="4.00" fill="#27808e"/><rect x="449.18" y="154.55" width="4.04" height="4.00" fill="#33628d"/><rect x="453.17" y="154.55" width="4.04" height="4.00" fill="#472e7c"/><rect x="457.16" y="154.55" width="4.04" height="4.00" fill="#481769"/><rect x="461.15" y="154.55" width="4.04" height="4.00" fill="#481769"/><rect x="465.14" y="154.55" width="4.04" height="4.00" fill="#482173"/><rect x="469.13" y="154.55" width="4.04" height="4.00" fill="#33628d"/><rect x="473.12" y="154.55" width="4.04" height="4.00" fill="#27808e"/><rect x="477.11" y="154.55" width="4.04" height="4.00" fill="#424086"/><rect x="441.20" y="158.50" width="4.04" height="4.00" fill="#482173"/><rect x="445.19" y="158.50" width="4.04" height="4.00" fill="#27808e"/><rect x="449.18" y="158.50" width="4.04" height="4.00" fill="#27808e"/><rect x="453.17" y="158.50" width="4.04" height="4.00" fill="#1f9a8a"/><rect x="457.16" y="158.50" width="4.04" height="4.00" fill="#33628d"/><rect x="461.15" y="158.50" width="4.04" height="4.00" fill="#33628d"/><rect x="465.14" y="158.50" width="4.04" height="4.00" fill="#33628d"/><rect x="469.13" y="158.50" width="4.04" height="4.00" fill="#27808e"/><rect x="473.12" y="158.50" width="4.04" height="4.00" fill="#2cb17e"/><rect x="477.11" y="158.50" width="4.04" height="4.00" fill="#482173"/><rect x="445.19" y="162.45" width="4.04" height="4.00" fill="#424086"/><rect x="449.18" y="162.45" width="4.04" height="4.00" fill="#1f9a8a"/><rect x="453.17" y="162.45" width="4.04" height="4.00" fill="#58c765"/><rect x="457.16" y="162.45" width="4.04" height="4.00" fill="#1f9a8a"/><rect x="461.15" y="162.45" width="4.04" height="4.00" fill="#2cb17e"/><rect x="465.14" y="162.45" width="4.04" height="4.00" fill="#1f9a8a"/><rect x="469.13" y="162.45" width="4.04" height="4.00" fill="#27808e"/><rect x="473.12" y="162.45" width="4.04" height="4.00" fill="#424086"/><rect x="449.18" y="166.40" width="4.04" height="4.00" fill="#424086"/><rect x="453.17" y="166.40" width="4.04" height="4.00" fill="#424086"/><rect x="457.16" y="166.40" width="4.04" height="4.00" fill="#33628d"/><rect x="461.15" y="166.40" width="4.04" height="4.00" fill="#33628d"/><rect x="465.14" y="166.40" width="4.04" height="4.00" fill="#33628d"/><rect x="469.13" y="166.40" width="4.04" height="4.00" fill="#482173"/><rect x="473.12" y="166.40" width="4.04" height="4.00" fill="#482173"/>
<rect x="405.30" y="71.60" width="111.70" height="110.60" fill="none" stroke="#1a1a1a" stroke-width="0.9"/>
<path d="M405.30,73.57h-3.5M407.29,182.20v3.5M405.30,113.07h-3.5M447.19,182.20v3.5M405.30,152.57h-3.5M487.08,182.20v3.5" stroke="#333" stroke-width="0.9" fill="none"/>
<text x="398.30" y="77.77" font-size="11" fill="#333" text-anchor="end" textLength="6.3" lengthAdjust="spacingAndGlyphs">0</text>
<text x="407.29" y="197.40" font-size="11" fill="#333" text-anchor="middle" textLength="6.3" lengthAdjust="spacingAndGlyphs">0</text>
<text x="398.30" y="117.27" font-size="11" fill="#333" text-anchor="end" textLength="12.4" lengthAdjust="spacingAndGlyphs">10</text>
<text x="447.19" y="197.40" font-size="11" fill="#333" text-anchor="middle" textLength="12.4" lengthAdjust="spacingAndGlyphs">10</text>
<text x="398.30" y="156.77" font-size="11" fill="#333" text-anchor="end" textLength="12.4" lengthAdjust="spacingAndGlyphs">20</text>
<text x="487.08" y="197.40" font-size="11" fill="#333" text-anchor="middle" textLength="12.4" lengthAdjust="spacingAndGlyphs">20</text>
<rect x="565.00" y="72.00" width="110.50" height="110.10" fill="#471063"/>
<rect x="616.30" y="91.66" width="4.00" height="3.98" fill="#482071"/><rect x="620.25" y="91.66" width="4.00" height="3.98" fill="#482071"/><rect x="624.20" y="91.66" width="4.00" height="3.98" fill="#463480"/><rect x="628.14" y="91.66" width="4.00" height="3.98" fill="#463480"/><rect x="608.41" y="95.59" width="4.00" height="3.98" fill="#482071"/><rect x="612.36" y="95.59" width="4.00" height="3.98" fill="#482071"/><rect x="616.30" y="95.59" width="4.00" height="3.98" fill="#3d4e8a"/><rect x="620.25" y="95.59" width="4.00" height="3.98" fill="#3d4e8a"/><rect x="624.20" y="95.59" width="4.00" height="3.98" fill="#3d4e8a"/><rect x="628.14" y="95.59" width="4.00" height="3.98" fill="#3d4e8a"/><rect x="632.09" y="95.59" width="4.00" height="3.98" fill="#482071"/><rect x="636.04" y="95.59" width="4.00" height="3.98" fill="#481467"/><rect x="604.46" y="99.53" width="4.00" height="3.98" fill="#32648e"/><rect x="608.41" y="99.53" width="4.00" height="3.98" fill="#482071"/><rect x="612.36" y="99.53" width="4.00" height="3.98" fill="#3d4e8a"/><rect x="616.30" y="99.53" width="4.00" height="3.98" fill="#463480"/><rect x="620.25" y="99.53" width="4.00" height="3.98" fill="#482071"/><rect x="624.20" y="99.53" width="4.00" height="3.98" fill="#482071"/><rect x="628.14" y="99.53" width="4.00" height="3.98" fill="#482071"/><rect x="632.09" y="99.53" width="4.00" height="3.98" fill="#482071"/><rect x="636.04" y="99.53" width="4.00" height="3.98" fill="#482071"/><rect x="639.98" y="99.53" width="4.00" height="3.98" fill="#481467"/><rect x="600.52" y="103.46" width="4.00" height="3.98" fill="#481467"/><rect x="604.46" y="103.46" width="4.00" height="3.98" fill="#463480"/><rect x="608.41" y="103.46" width="4.00" height="3.98" fill="#482071"/><rect x="612.36" y="103.46" width="4.00" height="3.98" fill="#481467"/><rect x="632.09" y="103.46" width="4.00" height="3.98" fill="#481467"/><rect x="636.04" y="103.46" width="4.00" height="3.98" fill="#463480"/><rect x="639.98" y="103.46" width="4.00" height="3.98" fill="#481467"/><rect x="596.57" y="107.39" width="4.00" height="3.98" fill="#481467"/><rect x="600.52" y="107.39" width="4.00" height="3.98" fill="#3d4e8a"/><rect x="604.46" y="107.39" width="4.00" height="3.98" fill="#463480"/><rect x="608.41" y="107.39" width="4.00" height="3.98" fill="#481467"/><rect x="628.14" y="107.39" width="4.00" height="3.98" fill="#481467"/><rect x="632.09" y="107.39" width="4.00" height="3.98" fill="#482071"/><rect x="636.04" y="107.39" width="4.00" height="3.98" fill="#32648e"/><rect x="639.98" y="107.39" width="4.00" height="3.98" fill="#482071"/><rect x="643.93" y="107.39" width="4.00" height="3.98" fill="#481467"/><rect x="596.57" y="111.32" width="4.00" height="3.98" fill="#481467"/><rect x="600.52" y="111.32" width="4.00" height="3.98" fill="#482071"/><rect x="604.46" y="111.32" width="4.00" height="3.98" fill="#463480"/><rect x="608.41" y="111.32" width="4.00" height="3.98" fill="#463480"/><rect x="612.36" y="111.32" width="4.00" height="3.98" fill="#481467"/><rect x="632.09" y="111.32" width="4.00" height="3.98" fill="#481467"/><rect x="636.04" y="111.32" width="4.00" height="3.98" fill="#482071"/><rect x="639.98" y="111.32" width="4.00" height="3.98" fill="#482071"/><rect x="600.52" y="115.25" width="4.00" height="3.98" fill="#482071"/><rect x="604.46" y="115.25" width="4.00" height="3.98" fill="#463480"/><rect x="608.41" y="115.25" width="4.00" height="3.98" fill="#463480"/><rect x="612.36" y="115.25" width="4.00" height="3.98" fill="#481467"/><rect x="616.30" y="115.25" width="4.00" height="3.98" fill="#481467"/><rect x="628.14" y="115.25" width="4.00" height="3.98" fill="#482071"/><rect x="632.09" y="115.25" width="4.00" height="3.98" fill="#482071"/><rect x="636.04" y="115.25" width="4.00" height="3.98" fill="#32648e"/><rect x="639.98" y="115.25" width="4.00" height="3.98" fill="#481467"/><rect x="604.46" y="119.19" width="4.00" height="3.98" fill="#3d4e8a"/><rect x="608.41" y="119.19" width="4.00" height="3.98" fill="#3d4e8a"/><rect x="612.36" y="119.19" width="4.00" height="3.98" fill="#482071"/><rect x="616.30" y="119.19" width="4.00" height="3.98" fill="#481467"/><rect x="620.25" y="119.19" width="4.00" height="3.98" fill="#481467"/><rect x="624.20" y="119.19" width="4.00" height="3.98" fill="#482071"/><rect x="628.14" y="119.19" width="4.00" height="3.98" fill="#463480"/><rect x="632.09" y="119.19" width="4.00" height="3.98" fill="#481467"/><rect x="608.41" y="123.12" width="4.00" height="3.98" fill="#3d4e8a"/><rect x="612.36" y="123.12" width="4.00" height="3.98" fill="#482071"/><rect x="616.30" y="123.12" width="4.00" height="3.98" fill="#482071"/><rect x="620.25" y="123.12" width="4.00" height="3.98" fill="#482071"/><rect x="624.20" y="123.12" width="4.00" height="3.98" fill="#32648e"/><rect x="628.14" y="123.12" width="4.00" height="3.98" fill="#482071"/><rect x="608.41" y="127.05" width="4.00" height="3.98" fill="#482071"/><rect x="612.36" y="127.05" width="4.00" height="3.98" fill="#463480"/><rect x="616.30" y="127.05" width="4.00" height="3.98" fill="#463480"/><rect x="620.25" y="127.05" width="4.00" height="3.98" fill="#482071"/><rect x="624.20" y="127.05" width="4.00" height="3.98" fill="#32648e"/><rect x="628.14" y="127.05" width="4.00" height="3.98" fill="#482071"/><rect x="612.36" y="130.98" width="4.00" height="3.98" fill="#463480"/><rect x="616.30" y="130.98" width="4.00" height="3.98" fill="#482071"/><rect x="620.25" y="130.98" width="4.00" height="3.98" fill="#482071"/><rect x="624.20" y="130.98" width="4.00" height="3.98" fill="#32648e"/><rect x="628.14" y="130.98" width="4.00" height="3.98" fill="#482071"/><rect x="608.41" y="134.91" width="4.00" height="3.98" fill="#481467"/><rect x="612.36" y="134.91" width="4.00" height="3.98" fill="#463480"/><rect x="616.30" y="134.91" width="4.00" height="3.98" fill="#463480"/><rect x="620.25" y="134.91" width="4.00" height="3.98" fill="#463480"/><rect x="624.20" y="134.91" width="4.00" height="3.98" fill="#482071"/><rect x="628.14" y="134.91" width="4.00" height="3.98" fill="#482071"/><rect x="632.09" y="134.91" width="4.00" height="3.98" fill="#481467"/><rect x="608.41" y="138.85" width="4.00" height="3.98" fill="#481467"/><rect x="612.36" y="138.85" width="4.00" height="3.98" fill="#481467"/><rect x="616.30" y="138.85" width="4.00" height="3.98" fill="#482071"/><rect x="620.25" y="138.85" width="4.00" height="3.98" fill="#481467"/><rect x="624.20" y="138.85" width="4.00" height="3.98" fill="#481467"/><rect x="628.14" y="138.85" width="4.00" height="3.98" fill="#463480"/><rect x="632.09" y="138.85" width="4.00" height="3.98" fill="#481467"/><rect x="604.46" y="142.78" width="4.00" height="3.98" fill="#481467"/><rect x="608.41" y="142.78" width="4.00" height="3.98" fill="#482071"/><rect x="612.36" y="142.78" width="4.00" height="3.98" fill="#482071"/><rect x="616.30" y="142.78" width="4.00" height="3.98" fill="#481467"/><rect x="624.20" y="142.78" width="4.00" height="3.98" fill="#481467"/><rect x="628.14" y="142.78" width="4.00" height="3.98" fill="#463480"/><rect x="632.09" y="142.78" width="4.00" height="3.98" fill="#482071"/><rect x="600.52" y="146.71" width="4.00" height="3.98" fill="#481467"/><rect x="604.46" y="146.71" width="4.00" height="3.98" fill="#463480"/><rect x="608.41" y="146.71" width="4.00" height="3.98" fill="#463480"/><rect x="612.36" y="146.71" width="4.00" height="3.98" fill="#481467"/><rect x="616.30" y="146.71" width="4.00" height="3.98" fill="#481467"/><rect x="624.20" y="146.71" width="4.00" height="3.98" fill="#481467"/><rect x="628.14" y="146.71" width="4.00" height="3.98" fill="#463480"/><rect x="632.09" y="146.71" width="4.00" height="3.98" fill="#463480"/><rect x="636.04" y="146.71" width="4.00" height="3.98" fill="#481467"/><rect x="600.52" y="150.64" width="4.00" height="3.98" fill="#481467"/><rect x="604.46" y="150.64" width="4.00" height="3.98" fill="#463480"/><rect x="608.41" y="150.64" width="4.00" height="3.98" fill="#482071"/><rect x="612.36" y="150.64" width="4.00" height="3.98" fill="#481467"/><rect x="624.20" y="150.64" width="4.00" height="3.98" fill="#481467"/><rect x="628.14" y="150.64" width="4.00" height="3.98" fill="#482071"/><rect x="632.09" y="150.64" width="4.00" height="3.98" fill="#482071"/><rect x="636.04" y="150.64" width="4.00" height="3.98" fill="#481467"/><rect x="600.52" y="154.57" width="4.00" height="3.98" fill="#481467"/><rect x="604.46" y="154.57" width="4.00" height="3.98" fill="#463480"/><rect x="608.41" y="154.57" width="4.00" height="3.98" fill="#482071"/><rect x="612.36" y="154.57" width="4.00" height="3.98" fill="#481467"/><rect x="620.25" y="154.57" width="4.00" height="3.98" fill="#481467"/><rect x="624.20" y="154.57" width="4.00" height="3.98" fill="#482071"/><rect x="628.14" y="154.57" width="4.00" height="3.98" fill="#482071"/><rect x="632.09" y="154.57" width="4.00" height="3.98" fill="#482071"/><rect x="636.04" y="154.57" width="4.00" height="3.98" fill="#481467"/><rect x="604.46" y="158.51" width="4.00" height="3.98" fill="#482071"/><rect x="608.41" y="158.51" width="4.00" height="3.98" fill="#482071"/><rect x="612.36" y="158.51" width="4.00" height="3.98" fill="#482071"/><rect x="616.30" y="158.51" width="4.00" height="3.98" fill="#482071"/><rect x="620.25" y="158.51" width="4.00" height="3.98" fill="#481467"/><rect x="624.20" y="158.51" width="4.00" height="3.98" fill="#482071"/><rect x="628.14" y="158.51" width="4.00" height="3.98" fill="#463480"/><rect x="632.09" y="158.51" width="4.00" height="3.98" fill="#481467"/><rect x="604.46" y="162.44" width="4.00" height="3.98" fill="#481467"/><rect x="608.41" y="162.44" width="4.00" height="3.98" fill="#482071"/><rect x="612.36" y="162.44" width="4.00" height="3.98" fill="#32648e"/><rect x="616.30" y="162.44" width="4.00" height="3.98" fill="#3d4e8a"/><rect x="620.25" y="162.44" width="4.00" height="3.98" fill="#3d4e8a"/><rect x="624.20" y="162.44" width="4.00" height="3.98" fill="#32648e"/><rect x="628.14" y="162.44" width="4.00" height="3.98" fill="#482071"/><rect x="632.09" y="162.44" width="4.00" height="3.98" fill="#481467"/><rect x="608.41" y="166.37" width="4.00" height="3.98" fill="#481467"/><rect x="612.36" y="166.37" width="4.00" height="3.98" fill="#481467"/><rect x="616.30" y="166.37" width="4.00" height="3.98" fill="#463480"/><rect x="620.25" y="166.37" width="4.00" height="3.98" fill="#482071"/><rect x="624.20" y="166.37" width="4.00" height="3.98" fill="#481467"/>
<rect x="565.00" y="72.00" width="110.50" height="110.10" fill="none" stroke="#1a1a1a" stroke-width="0.9"/>
<path d="M565.00,73.97h-3.5M566.97,182.10v3.5M565.00,113.29h-3.5M606.44,182.10v3.5M565.00,152.61h-3.5M645.90,182.10v3.5" stroke="#333" stroke-width="0.9" fill="none"/>
<text x="558.00" y="78.17" font-size="11" fill="#333" text-anchor="end" textLength="6.3" lengthAdjust="spacingAndGlyphs">0</text>
<text x="566.97" y="197.30" font-size="11" fill="#333" text-anchor="middle" textLength="6.3" lengthAdjust="spacingAndGlyphs">0</text>
<text x="558.00" y="117.49" font-size="11" fill="#333" text-anchor="end" textLength="12.4" lengthAdjust="spacingAndGlyphs">10</text>
<text x="606.44" y="197.30" font-size="11" fill="#333" text-anchor="middle" textLength="12.4" lengthAdjust="spacingAndGlyphs">10</text>
<text x="558.00" y="156.81" font-size="11" fill="#333" text-anchor="end" textLength="12.4" lengthAdjust="spacingAndGlyphs">20</text>
<text x="645.90" y="197.30" font-size="11" fill="#333" text-anchor="middle" textLength="12.4" lengthAdjust="spacingAndGlyphs">20</text>
<path d="M490.2,217.8 Q531.6,186.6 577.0,218.5" fill="none" stroke="#111" stroke-width="1.25"/>
<path d="M582.8,221.6 L577.2,215.4 L574.4,219.7 Z" fill="#111" stroke="#111" stroke-width="0.6" stroke-linejoin="round"/>
<text x="514.7" y="221.3" font-size="15.3" fill="#111" text-anchor="start" textLength="32.1" lengthAdjust="spacingAndGlyphs" stroke="#111" stroke-width="0.12">Drift</text>
<rect x="510.7" y="227.1" width="46.9" height="19.9" rx="3.5" fill="#e8eaf7"/>
<text x="514.1" y="243.2" font-size="16.0" fill="#141a4a" text-anchor="start" textLength="34.1" lengthAdjust="spacingAndGlyphs" stroke="#141a4a" stroke-width="0.12">77 K</text>
<text x="410.6" y="251.7" font-size="16.5" fill="#111" textLength="37.6" lengthAdjust="spacingAndGlyphs">t=10</text>
<text x="447.5" y="247.4" font-size="10.5" fill="#111" textLength="9.8" lengthAdjust="spacingAndGlyphs">-3</text>
<text x="466.2" y="251.7" font-size="16.5" fill="#111">s</text>
<text x="595.2" y="250.2" font-size="16.5" fill="#111" textLength="54.4" lengthAdjust="spacingAndGlyphs">t=6x10</text>
<text x="648.6" y="245.8" font-size="10" fill="#111" textLength="5.8" lengthAdjust="spacingAndGlyphs">7</text>
<text x="666.2" y="250.2" font-size="16.5" fill="#111">s</text>
<rect x="409.20" y="257.00" width="104.40" height="103.60" fill="#471063"/>
<rect x="457.67" y="271.80" width="3.78" height="3.75" fill="#482173"/><rect x="480.04" y="271.80" width="3.78" height="3.75" fill="#482173"/><rect x="457.67" y="275.50" width="3.78" height="3.75" fill="#1f9a8a"/><rect x="461.40" y="275.50" width="3.78" height="3.75" fill="#1f9a8a"/><rect x="465.13" y="275.50" width="3.78" height="3.75" fill="#27808e"/><rect x="468.86" y="275.50" width="3.78" height="3.75" fill="#27808e"/><rect x="472.59" y="275.50" width="3.78" height="3.75" fill="#33628d"/><rect x="480.04" y="275.50" width="3.78" height="3.75" fill="#482173"/><rect x="442.76" y="279.20" width="3.78" height="3.75" fill="#482173"/><rect x="446.49" y="279.20" width="3.78" height="3.75" fill="#424086"/><rect x="450.21" y="279.20" width="3.78" height="3.75" fill="#1f9a8a"/><rect x="453.94" y="279.20" width="3.78" height="3.75" fill="#58c765"/><rect x="457.67" y="279.20" width="3.78" height="3.75" fill="#1f9a8a"/><rect x="461.40" y="279.20" width="3.78" height="3.75" fill="#27808e"/><rect x="465.13" y="279.20" width="3.78" height="3.75" fill="#2cb17e"/><rect x="468.86" y="279.20" width="3.78" height="3.75" fill="#27808e"/><rect x="472.59" y="279.20" width="3.78" height="3.75" fill="#1f9a8a"/><rect x="476.31" y="279.20" width="3.78" height="3.75" fill="#1f9a8a"/><rect x="480.04" y="279.20" width="3.78" height="3.75" fill="#424086"/><rect x="439.03" y="282.90" width="3.78" height="3.75" fill="#424086"/><rect x="442.76" y="282.90" width="3.78" height="3.75" fill="#482173"/><rect x="446.49" y="282.90" width="3.78" height="3.75" fill="#33628d"/><rect x="450.21" y="282.90" width="3.78" height="3.75" fill="#58c765"/><rect x="453.94" y="282.90" width="3.78" height="3.75" fill="#27808e"/><rect x="457.67" y="282.90" width="3.78" height="3.75" fill="#27808e"/><rect x="461.40" y="282.90" width="3.78" height="3.75" fill="#27808e"/><rect x="465.13" y="282.90" width="3.78" height="3.75" fill="#33628d"/><rect x="468.86" y="282.90" width="3.78" height="3.75" fill="#33628d"/><rect x="472.59" y="282.90" width="3.78" height="3.75" fill="#27808e"/><rect x="476.31" y="282.90" width="3.78" height="3.75" fill="#2cb17e"/><rect x="480.04" y="282.90" width="3.78" height="3.75" fill="#33628d"/><rect x="483.77" y="282.90" width="3.78" height="3.75" fill="#424086"/><rect x="487.50" y="282.90" width="3.78" height="3.75" fill="#424086"/><rect x="439.03" y="286.60" width="3.78" height="3.75" fill="#482173"/><rect x="442.76" y="286.60" width="3.78" height="3.75" fill="#33628d"/><rect x="446.49" y="286.60" width="3.78" height="3.75" fill="#cae11f"/><rect x="450.21" y="286.60" width="3.78" height="3.75" fill="#1f9a8a"/><rect x="453.94" y="286.60" width="3.78" height="3.75" fill="#58c765"/><rect x="457.67" y="286.60" width="3.78" height="3.75" fill="#482173"/><rect x="461.40" y="286.60" width="3.78" height="3.75" fill="#424086"/><rect x="465.13" y="286.60" width="3.78" height="3.75" fill="#33628d"/><rect x="468.86" y="286.60" width="3.78" height="3.75" fill="#33628d"/><rect x="472.59" y="286.60" width="3.78" height="3.75" fill="#482173"/><rect x="476.31" y="286.60" width="3.78" height="3.75" fill="#1f9a8a"/><rect x="480.04" y="286.60" width="3.78" height="3.75" fill="#1f9a8a"/><rect x="483.77" y="286.60" width="3.78" height="3.75" fill="#424086"/><rect x="487.50" y="286.60" width="3.78" height="3.75" fill="#482173"/><rect x="435.30" y="290.30" width="3.78" height="3.75" fill="#424086"/><rect x="439.03" y="290.30" width="3.78" height="3.75" fill="#482173"/><rect x="442.76" y="290.30" width="3.78" height="3.75" fill="#1f9a8a"/><rect x="446.49" y="290.30" width="3.78" height="3.75" fill="#2cb17e"/><rect x="450.21" y="290.30" width="3.78" height="3.75" fill="#27808e"/><rect x="453.94" y="290.30" width="3.78" height="3.75" fill="#424086"/><rect x="457.67" y="290.30" width="3.78" height="3.75" fill="#424086"/><rect x="461.40" y="290.30" width="3.78" height="3.75" fill="#482173"/><rect x="465.13" y="290.30" width="3.78" height="3.75" fill="#424086"/><rect x="468.86" y="290.30" width="3.78" height="3.75" fill="#482173"/><rect x="472.59" y="290.30" width="3.78" height="3.75" fill="#482173"/><rect x="476.31" y="290.30" width="3.78" height="3.75" fill="#1f9a8a"/><rect x="480.04" y="290.30" width="3.78" height="3.75" fill="#1f9a8a"/><rect x="483.77" y="290.30" width="3.78" height="3.75" fill="#2cb17e"/><rect x="487.50" y="290.30" width="3.78" height="3.75" fill="#33628d"/><rect x="439.03" y="294.00" width="3.78" height="3.75" fill="#424086"/><rect x="442.76" y="294.00" width="3.78" height="3.75" fill="#27808e"/><rect x="446.49" y="294.00" width="3.78" height="3.75" fill="#33628d"/><rect x="450.21" y="294.00" width="3.78" height="3.75" fill="#1f9a8a"/><rect x="453.94" y="294.00" width="3.78" height="3.75" fill="#482173"/><rect x="457.67" y="294.00" width="3.78" height="3.75" fill="#482173"/><rect x="468.86" y="294.00" width="3.78" height="3.75" fill="#482173"/><rect x="472.59" y="294.00" width="3.78" height="3.75" fill="#2cb17e"/><rect x="476.31" y="294.00" width="3.78" height="3.75" fill="#27808e"/><rect x="480.04" y="294.00" width="3.78" height="3.75" fill="#33628d"/><rect x="483.77" y="294.00" width="3.78" height="3.75" fill="#424086"/><rect x="487.50" y="294.00" width="3.78" height="3.75" fill="#482173"/><rect x="442.76" y="297.70" width="3.78" height="3.75" fill="#482173"/><rect x="446.49" y="297.70" width="3.78" height="3.75" fill="#424086"/><rect x="450.21" y="297.70" width="3.78" height="3.75" fill="#27808e"/><rect x="453.94" y="297.70" width="3.78" height="3.75" fill="#33628d"/><rect x="457.67" y="297.70" width="3.78" height="3.75" fill="#482173"/><rect x="461.40" y="297.70" width="3.78" height="3.75" fill="#424086"/><rect x="465.13" y="297.70" width="3.78" height="3.75" fill="#424086"/><rect x="468.86" y="297.70" width="3.78" height="3.75" fill="#482173"/><rect x="472.59" y="297.70" width="3.78" height="3.75" fill="#33628d"/><rect x="476.31" y="297.70" width="3.78" height="3.75" fill="#58c765"/><rect x="480.04" y="297.70" width="3.78" height="3.75" fill="#27808e"/><rect x="483.77" y="297.70" width="3.78" height="3.75" fill="#33628d"/><rect x="435.30" y="301.40" width="3.78" height="3.75" fill="#27808e"/><rect x="439.03" y="301.40" width="3.78" height="3.75" fill="#33628d"/><rect x="442.76" y="301.40" width="3.78" height="3.75" fill="#482173"/><rect x="446.49" y="301.40" width="3.78" height="3.75" fill="#482173"/><rect x="450.21" y="301.40" width="3.78" height="3.75" fill="#58c765"/><rect x="453.94" y="301.40" width="3.78" height="3.75" fill="#424086"/><rect x="457.67" y="301.40" width="3.78" height="3.75" fill="#482173"/><rect x="461.40" y="301.40" width="3.78" height="3.75" fill="#33628d"/><rect x="465.13" y="301.40" width="3.78" height="3.75" fill="#424086"/><rect x="468.86" y="301.40" width="3.78" height="3.75" fill="#58c765"/><rect x="472.59" y="301.40" width="3.78" height="3.75" fill="#1f9a8a"/><rect x="476.31" y="301.40" width="3.78" height="3.75" fill="#424086"/><rect x="480.04" y="301.40" width="3.78" height="3.75" fill="#424086"/><rect x="483.77" y="301.40" width="3.78" height="3.75" fill="#33628d"/><rect x="439.03" y="305.10" width="3.78" height="3.75" fill="#33628d"/><rect x="442.76" y="305.10" width="3.78" height="3.75" fill="#424086"/><rect x="446.49" y="305.10" width="3.78" height="3.75" fill="#424086"/><rect x="450.21" y="305.10" width="3.78" height="3.75" fill="#27808e"/><rect x="453.94" y="305.10" width="3.78" height="3.75" fill="#2cb17e"/><rect x="457.67" y="305.10" width="3.78" height="3.75" fill="#27808e"/><rect x="461.40" y="305.10" width="3.78" height="3.75" fill="#1f9a8a"/><rect x="465.13" y="305.10" width="3.78" height="3.75" fill="#33628d"/><rect x="468.86" y="305.10" width="3.78" height="3.75" fill="#33628d"/><rect x="472.59" y="305.10" width="3.78" height="3.75" fill="#33628d"/><rect x="476.31" y="305.10" width="3.78" height="3.75" fill="#33628d"/><rect x="480.04" y="305.10" width="3.78" height="3.75" fill="#424086"/><rect x="442.76" y="308.80" width="3.78" height="3.75" fill="#482173"/><rect x="446.49" y="308.80" width="3.78" height="3.75" fill="#424086"/><rect x="450.21" y="308.80" width="3.78" height="3.75" fill="#424086"/><rect x="453.94" y="308.80" width="3.78" height="3.75" fill="#27808e"/><rect x="457.67" y="308.80" width="3.78" height="3.75" fill="#1f9a8a"/><rect x="461.40" y="308.80" width="3.78" height="3.75" fill="#33628d"/><rect x="465.13" y="308.80" width="3.78" height="3.75" fill="#1f9a8a"/><rect x="468.86" y="308.80" width="3.78" height="3.75" fill="#1f9a8a"/><rect x="472.59" y="308.80" width="3.78" height="3.75" fill="#424086"/><rect x="476.31" y="308.80" width="3.78" height="3.75" fill="#482173"/><rect x="442.76" y="312.50" width="3.78" height="3.75" fill="#482173"/><rect x="446.49" y="312.50" width="3.78" height="3.75" fill="#482173"/><rect x="450.21" y="312.50" width="3.78" height="3.75" fill="#482173"/><rect x="453.94" y="312.50" width="3.78" height="3.75" fill="#1f9a8a"/><rect x="457.67" y="312.50" width="3.78" height="3.75" fill="#1f9a8a"/><rect x="461.40" y="312.50" width="3.78" height="3.75" fill="#58c765"/><rect x="465.13" y="312.50" width="3.78" height="3.75" fill="#95d840"/><rect x="468.86" y="312.50" width="3.78" height="3.75" fill="#33628d"/><rect x="472.59" y="312.50" width="3.78" height="3.75" fill="#424086"/><rect x="476.31" y="312.50" width="3.78" height="3.75" fill="#424086"/><rect x="446.49" y="316.20" width="3.78" height="3.75" fill="#482173"/><rect x="450.21" y="316.20" width="3.78" height="3.75" fill="#482173"/><rect x="453.94" y="316.20" width="3.78" height="3.75" fill="#27808e"/><rect x="457.67" y="316.20" width="3.78" height="3.75" fill="#1f9a8a"/><rect x="461.40" y="316.20" width="3.78" height="3.75" fill="#1f9a8a"/><rect x="465.13" y="316.20" width="3.78" height="3.75" fill="#1f9a8a"/><rect x="468.86" y="316.20" width="3.78" height="3.75" fill="#27808e"/><rect x="472.59" y="316.20" width="3.78" height="3.75" fill="#482173"/><rect x="446.49" y="319.90" width="3.78" height="3.75" fill="#482173"/><rect x="450.21" y="319.90" width="3.78" height="3.75" fill="#1f9a8a"/><rect x="453.94" y="319.90" width="3.78" height="3.75" fill="#2cb17e"/><rect x="457.67" y="319.90" width="3.78" height="3.75" fill="#27808e"/><rect x="461.40" y="319.90" width="3.78" height="3.75" fill="#1f9a8a"/><rect x="465.13" y="319.90" width="3.78" height="3.75" fill="#1f9a8a"/><rect x="468.86" y="319.90" width="3.78" height="3.75" fill="#27808e"/><rect x="476.31" y="319.90" width="3.78" height="3.75" fill="#27808e"/><rect x="450.21" y="323.60" width="3.78" height="3.75" fill="#1f9a8a"/><rect x="453.94" y="323.60" width="3.78" height="3.75" fill="#27808e"/><rect x="457.67" y="323.60" width="3.78" height="3.75" fill="#482173"/><rect x="461.40" y="323.60" width="3.78" height="3.75" fill="#424086"/><rect x="465.13" y="323.60" width="3.78" height="3.75" fill="#424086"/><rect x="468.86" y="323.60" width="3.78" height="3.75" fill="#58c765"/><rect x="472.59" y="323.60" width="3.78" height="3.75" fill="#1f9a8a"/><rect x="480.04" y="323.60" width="3.78" height="3.75" fill="#424086"/><rect x="446.49" y="327.30" width="3.78" height="3.75" fill="#424086"/><rect x="450.21" y="327.30" width="3.78" height="3.75" fill="#1f9a8a"/><rect x="453.94" y="327.30" width="3.78" height="3.75" fill="#482173"/><rect x="457.67" y="327.30" width="3.78" height="3.75" fill="#33628d"/><rect x="461.40" y="327.30" width="3.78" height="3.75" fill="#482173"/><rect x="465.13" y="327.30" width="3.78" height="3.75" fill="#424086"/><rect x="468.86" y="327.30" width="3.78" height="3.75" fill="#1f9a8a"/><rect x="472.59" y="327.30" width="3.78" height="3.75" fill="#58c765"/><rect x="476.31" y="327.30" width="3.78" height="3.75" fill="#482173"/><rect x="442.76" y="331.00" width="3.78" height="3.75" fill="#424086"/><rect x="446.49" y="331.00" width="3.78" height="3.75" fill="#58c765"/><rect x="450.21" y="331.00" width="3.78" height="3.75" fill="#1f9a8a"/><rect x="453.94" y="331.00" width="3.78" height="3.75" fill="#424086"/><rect x="457.67" y="331.00" width="3.78" height="3.75" fill="#482173"/><rect x="461.40" y="331.00" width="3.78" height="3.75" fill="#424086"/><rect x="465.13" y="331.00" width="3.78" height="3.75" fill="#482173"/><rect x="468.86" y="331.00" width="3.78" height="3.75" fill="#27808e"/><rect x="472.59" y="331.00" width="3.78" height="3.75" fill="#27808e"/><rect x="476.31" y="331.00" width="3.78" height="3.75" fill="#482173"/><rect x="446.49" y="334.70" width="3.78" height="3.75" fill="#33628d"/><rect x="450.21" y="334.70" width="3.78" height="3.75" fill="#1f9a8a"/><rect x="453.94" y="334.70" width="3.78" height="3.75" fill="#424086"/><rect x="457.67" y="334.70" width="3.78" height="3.75" fill="#424086"/><rect x="461.40" y="334.70" width="3.78" height="3.75" fill="#482173"/><rect x="465.13" y="334.70" width="3.78" height="3.75" fill="#424086"/><rect x="468.86" y="334.70" width="3.78" height="3.75" fill="#1f9a8a"/><rect x="472.59" y="334.70" width="3.78" height="3.75" fill="#cae11f"/><rect x="476.31" y="334.70" width="3.78" height="3.75" fill="#424086"/><rect x="480.04" y="334.70" width="3.78" height="3.75" fill="#33628d"/><rect x="450.21" y="338.40" width="3.78" height="3.75" fill="#27808e"/><rect x="453.94" y="338.40" width="3.78" height="3.75" fill="#33628d"/><rect x="457.67" y="338.40" width="3.78" height="3.75" fill="#1f9a8a"/><rect x="461.40" y="338.40" width="3.78" height="3.75" fill="#27808e"/><rect x="465.13" y="338.40" width="3.78" height="3.75" fill="#2cb17e"/><rect x="468.86" y="338.40" width="3.78" height="3.75" fill="#95d840"/><rect x="472.59" y="338.40" width="3.78" height="3.75" fill="#58c765"/><rect x="476.31" y="338.40" width="3.78" height="3.75" fill="#482173"/><rect x="480.04" y="338.40" width="3.78" height="3.75" fill="#33628d"/><rect x="442.76" y="342.10" width="3.78" height="3.75" fill="#482173"/><rect x="446.49" y="342.10" width="3.78" height="3.75" fill="#482173"/><rect x="450.21" y="342.10" width="3.78" height="3.75" fill="#33628d"/><rect x="453.94" y="342.10" width="3.78" height="3.75" fill="#95d840"/><rect x="457.67" y="342.10" width="3.78" height="3.75" fill="#27808e"/><rect x="461.40" y="342.10" width="3.78" height="3.75" fill="#1f9a8a"/><rect x="465.13" y="342.10" width="3.78" height="3.75" fill="#27808e"/><rect x="468.86" y="342.10" width="3.78" height="3.75" fill="#27808e"/><rect x="472.59" y="342.10" width="3.78" height="3.75" fill="#424086"/><rect x="476.31" y="342.10" width="3.78" height="3.75" fill="#424086"/><rect x="446.49" y="345.80" width="3.78" height="3.75" fill="#482173"/><rect x="450.21" y="345.80" width="3.78" height="3.75" fill="#424086"/><rect x="453.94" y="345.80" width="3.78" height="3.75" fill="#482173"/><rect x="457.67" y="345.80" width="3.78" height="3.75" fill="#95d840"/><rect x="461.40" y="345.80" width="3.78" height="3.75" fill="#33628d"/><rect x="465.13" y="345.80" width="3.78" height="3.75" fill="#482173"/><rect x="468.86" y="345.80" width="3.78" height="3.75" fill="#424086"/><rect x="472.59" y="345.80" width="3.78" height="3.75" fill="#482173"/>
<rect x="409.20" y="257.00" width="104.40" height="103.60" fill="none" stroke="#1a1a1a" stroke-width="0.9"/>
<path d="M409.20,258.85h-3.5M411.06,360.60v3.5M409.20,295.85h-3.5M448.35,360.60v3.5M409.20,332.85h-3.5M485.64,360.60v3.5" stroke="#333" stroke-width="0.9" fill="none"/>
<text x="402.20" y="263.05" font-size="11" fill="#333" text-anchor="end" textLength="6.3" lengthAdjust="spacingAndGlyphs">0</text>
<text x="411.06" y="375.80" font-size="11" fill="#333" text-anchor="middle" textLength="6.3" lengthAdjust="spacingAndGlyphs">0</text>
<text x="402.20" y="300.05" font-size="11" fill="#333" text-anchor="end" textLength="12.4" lengthAdjust="spacingAndGlyphs">10</text>
<text x="448.35" y="375.80" font-size="11" fill="#333" text-anchor="middle" textLength="12.4" lengthAdjust="spacingAndGlyphs">10</text>
<text x="402.20" y="337.05" font-size="11" fill="#333" text-anchor="end" textLength="12.4" lengthAdjust="spacingAndGlyphs">20</text>
<text x="485.64" y="375.80" font-size="11" fill="#333" text-anchor="middle" textLength="12.4" lengthAdjust="spacingAndGlyphs">20</text>
<rect x="567.90" y="253.90" width="104.60" height="104.50" fill="#471063"/>
<rect x="608.99" y="272.56" width="3.79" height="3.78" fill="#424086"/><rect x="612.73" y="272.56" width="3.79" height="3.78" fill="#482173"/><rect x="616.46" y="272.56" width="3.79" height="3.78" fill="#482173"/><rect x="620.20" y="272.56" width="3.79" height="3.78" fill="#424086"/><rect x="623.94" y="272.56" width="3.79" height="3.78" fill="#2cb17e"/><rect x="627.67" y="272.56" width="3.79" height="3.78" fill="#27808e"/><rect x="631.41" y="272.56" width="3.79" height="3.78" fill="#482173"/><rect x="635.14" y="272.56" width="3.79" height="3.78" fill="#482173"/><rect x="638.88" y="272.56" width="3.79" height="3.78" fill="#482173"/><rect x="608.99" y="276.29" width="3.79" height="3.78" fill="#33628d"/><rect x="612.73" y="276.29" width="3.79" height="3.78" fill="#1f9a8a"/><rect x="616.46" y="276.29" width="3.79" height="3.78" fill="#1f9a8a"/><rect x="620.20" y="276.29" width="3.79" height="3.78" fill="#33628d"/><rect x="623.94" y="276.29" width="3.79" height="3.78" fill="#33628d"/><rect x="627.67" y="276.29" width="3.79" height="3.78" fill="#27808e"/><rect x="631.41" y="276.29" width="3.79" height="3.78" fill="#1f9a8a"/><rect x="635.14" y="276.29" width="3.79" height="3.78" fill="#33628d"/><rect x="638.88" y="276.29" width="3.79" height="3.78" fill="#33628d"/><rect x="642.61" y="276.29" width="3.79" height="3.78" fill="#424086"/><rect x="597.79" y="280.02" width="3.79" height="3.78" fill="#482173"/><rect x="601.52" y="280.02" width="3.79" height="3.78" fill="#424086"/><rect x="605.26" y="280.02" width="3.79" height="3.78" fill="#424086"/><rect x="608.99" y="280.02" width="3.79" height="3.78" fill="#27808e"/><rect x="612.73" y="280.02" width="3.79" height="3.78" fill="#33628d"/><rect x="616.46" y="280.02" width="3.79" height="3.78" fill="#1f9a8a"/><rect x="620.20" y="280.02" width="3.79" height="3.78" fill="#1f9a8a"/><rect x="623.94" y="280.02" width="3.79" height="3.78" fill="#1f9a8a"/><rect x="627.67" y="280.02" width="3.79" height="3.78" fill="#58c765"/><rect x="631.41" y="280.02" width="3.79" height="3.78" fill="#27808e"/><rect x="635.14" y="280.02" width="3.79" height="3.78" fill="#1f9a8a"/><rect x="638.88" y="280.02" width="3.79" height="3.78" fill="#424086"/><rect x="642.61" y="280.02" width="3.79" height="3.78" fill="#482173"/><rect x="594.05" y="283.76" width="3.79" height="3.78" fill="#482173"/><rect x="597.79" y="283.76" width="3.79" height="3.78" fill="#482173"/><rect x="601.52" y="283.76" width="3.79" height="3.78" fill="#33628d"/><rect x="605.26" y="283.76" width="3.79" height="3.78" fill="#27808e"/><rect x="608.99" y="283.76" width="3.79" height="3.78" fill="#1f9a8a"/><rect x="612.73" y="283.76" width="3.79" height="3.78" fill="#1f9a8a"/><rect x="616.46" y="283.76" width="3.79" height="3.78" fill="#424086"/><rect x="620.20" y="283.76" width="3.79" height="3.78" fill="#482173"/><rect x="623.94" y="283.76" width="3.79" height="3.78" fill="#482173"/><rect x="627.67" y="283.76" width="3.79" height="3.78" fill="#424086"/><rect x="631.41" y="283.76" width="3.79" height="3.78" fill="#33628d"/><rect x="635.14" y="283.76" width="3.79" height="3.78" fill="#95d840"/><rect x="638.88" y="283.76" width="3.79" height="3.78" fill="#27808e"/><rect x="642.61" y="283.76" width="3.79" height="3.78" fill="#424086"/><rect x="597.79" y="287.49" width="3.79" height="3.78" fill="#424086"/><rect x="601.52" y="287.49" width="3.79" height="3.78" fill="#27808e"/><rect x="605.26" y="287.49" width="3.79" height="3.78" fill="#58c765"/><rect x="608.99" y="287.49" width="3.79" height="3.78" fill="#33628d"/><rect x="612.73" y="287.49" width="3.79" height="3.78" fill="#424086"/><rect x="616.46" y="287.49" width="3.79" height="3.78" fill="#482173"/><rect x="620.20" y="287.49" width="3.79" height="3.78" fill="#482173"/><rect x="623.94" y="287.49" width="3.79" height="3.78" fill="#33628d"/><rect x="627.67" y="287.49" width="3.79" height="3.78" fill="#482173"/><rect x="631.41" y="287.49" width="3.79" height="3.78" fill="#424086"/><rect x="635.14" y="287.49" width="3.79" height="3.78" fill="#27808e"/><rect x="638.88" y="287.49" width="3.79" height="3.78" fill="#27808e"/><rect x="642.61" y="287.49" width="3.79" height="3.78" fill="#482173"/><rect x="646.35" y="287.49" width="3.79" height="3.78" fill="#424086"/><rect x="597.79" y="291.22" width="3.79" height="3.78" fill="#424086"/><rect x="601.52" y="291.22" width="3.79" height="3.78" fill="#1f9a8a"/><rect x="605.26" y="291.22" width="3.79" height="3.78" fill="#33628d"/><rect x="608.99" y="291.22" width="3.79" height="3.78" fill="#424086"/><rect x="631.41" y="291.22" width="3.79" height="3.78" fill="#33628d"/><rect x="635.14" y="291.22" width="3.79" height="3.78" fill="#1f9a8a"/><rect x="638.88" y="291.22" width="3.79" height="3.78" fill="#482173"/><rect x="642.61" y="291.22" width="3.79" height="3.78" fill="#424086"/><rect x="646.35" y="291.22" width="3.79" height="3.78" fill="#424086"/><rect x="601.52" y="294.95" width="3.79" height="3.78" fill="#424086"/><rect x="605.26" y="294.95" width="3.79" height="3.78" fill="#27808e"/><rect x="608.99" y="294.95" width="3.79" height="3.78" fill="#27808e"/><rect x="612.73" y="294.95" width="3.79" height="3.78" fill="#424086"/><rect x="616.46" y="294.95" width="3.79" height="3.78" fill="#482173"/><rect x="620.20" y="294.95" width="3.79" height="3.78" fill="#482173"/><rect x="623.94" y="294.95" width="3.79" height="3.78" fill="#482173"/><rect x="627.67" y="294.95" width="3.79" height="3.78" fill="#424086"/><rect x="631.41" y="294.95" width="3.79" height="3.78" fill="#2cb17e"/><rect x="635.14" y="294.95" width="3.79" height="3.78" fill="#33628d"/><rect x="638.88" y="294.95" width="3.79" height="3.78" fill="#424086"/><rect x="597.79" y="298.69" width="3.79" height="3.78" fill="#424086"/><rect x="601.52" y="298.69" width="3.79" height="3.78" fill="#482173"/><rect x="605.26" y="298.69" width="3.79" height="3.78" fill="#424086"/><rect x="608.99" y="298.69" width="3.79" height="3.78" fill="#95d840"/><rect x="612.73" y="298.69" width="3.79" height="3.78" fill="#424086"/><rect x="616.46" y="298.69" width="3.79" height="3.78" fill="#482173"/><rect x="620.20" y="298.69" width="3.79" height="3.78" fill="#482173"/><rect x="623.94" y="298.69" width="3.79" height="3.78" fill="#424086"/><rect x="627.67" y="298.69" width="3.79" height="3.78" fill="#27808e"/><rect x="631.41" y="298.69" width="3.79" height="3.78" fill="#1f9a8a"/><rect x="635.14" y="298.69" width="3.79" height="3.78" fill="#424086"/><rect x="638.88" y="298.69" width="3.79" height="3.78" fill="#482173"/><rect x="642.61" y="298.69" width="3.79" height="3.78" fill="#482173"/><rect x="601.52" y="302.42" width="3.79" height="3.78" fill="#482173"/><rect x="605.26" y="302.42" width="3.79" height="3.78" fill="#482173"/><rect x="608.99" y="302.42" width="3.79" height="3.78" fill="#27808e"/><rect x="612.73" y="302.42" width="3.79" height="3.78" fill="#58c765"/><rect x="616.46" y="302.42" width="3.79" height="3.78" fill="#58c765"/><rect x="620.20" y="302.42" width="3.79" height="3.78" fill="#33628d"/><rect x="623.94" y="302.42" width="3.79" height="3.78" fill="#27808e"/><rect x="627.67" y="302.42" width="3.79" height="3.78" fill="#1f9a8a"/><rect x="631.41" y="302.42" width="3.79" height="3.78" fill="#424086"/><rect x="635.14" y="302.42" width="3.79" height="3.78" fill="#424086"/><rect x="638.88" y="302.42" width="3.79" height="3.78" fill="#424086"/><rect x="601.52" y="306.15" width="3.79" height="3.78" fill="#33628d"/><rect x="605.26" y="306.15" width="3.79" height="3.78" fill="#424086"/><rect x="608.99" y="306.15" width="3.79" height="3.78" fill="#482173"/><rect x="612.73" y="306.15" width="3.79" height="3.78" fill="#27808e"/><rect x="616.46" y="306.15" width="3.79" height="3.78" fill="#1f9a8a"/><rect x="620.20" y="306.15" width="3.79" height="3.78" fill="#27808e"/><rect x="623.94" y="306.15" width="3.79" height="3.78" fill="#27808e"/><rect x="627.67" y="306.15" width="3.79" height="3.78" fill="#27808e"/><rect x="631.41" y="306.15" width="3.79" height="3.78" fill="#482173"/><rect x="635.14" y="306.15" width="3.79" height="3.78" fill="#33628d"/><rect x="612.73" y="309.88" width="3.79" height="3.78" fill="#2cb17e"/><rect x="616.46" y="309.88" width="3.79" height="3.78" fill="#1f9a8a"/><rect x="620.20" y="309.88" width="3.79" height="3.78" fill="#58c765"/><rect x="623.94" y="309.88" width="3.79" height="3.78" fill="#1f9a8a"/><rect x="627.67" y="309.88" width="3.79" height="3.78" fill="#27808e"/><rect x="635.14" y="309.88" width="3.79" height="3.78" fill="#33628d"/><rect x="605.26" y="313.61" width="3.79" height="3.78" fill="#424086"/><rect x="608.99" y="313.61" width="3.79" height="3.78" fill="#482173"/><rect x="612.73" y="313.61" width="3.79" height="3.78" fill="#1f9a8a"/><rect x="616.46" y="313.61" width="3.79" height="3.78" fill="#1f9a8a"/><rect x="620.20" y="313.61" width="3.79" height="3.78" fill="#27808e"/><rect x="623.94" y="313.61" width="3.79" height="3.78" fill="#33628d"/><rect x="627.67" y="313.61" width="3.79" height="3.78" fill="#33628d"/><rect x="635.14" y="313.61" width="3.79" height="3.78" fill="#424086"/><rect x="608.99" y="317.35" width="3.79" height="3.78" fill="#1f9a8a"/><rect x="612.73" y="317.35" width="3.79" height="3.78" fill="#1f9a8a"/><rect x="616.46" y="317.35" width="3.79" height="3.78" fill="#1f9a8a"/><rect x="620.20" y="317.35" width="3.79" height="3.78" fill="#33628d"/><rect x="623.94" y="317.35" width="3.79" height="3.78" fill="#2cb17e"/><rect x="627.67" y="317.35" width="3.79" height="3.78" fill="#1f9a8a"/><rect x="635.14" y="317.35" width="3.79" height="3.78" fill="#424086"/><rect x="605.26" y="321.08" width="3.79" height="3.78" fill="#424086"/><rect x="608.99" y="321.08" width="3.79" height="3.78" fill="#33628d"/><rect x="612.73" y="321.08" width="3.79" height="3.78" fill="#33628d"/><rect x="616.46" y="321.08" width="3.79" height="3.78" fill="#482173"/><rect x="620.20" y="321.08" width="3.79" height="3.78" fill="#424086"/><rect x="623.94" y="321.08" width="3.79" height="3.78" fill="#424086"/><rect x="627.67" y="321.08" width="3.79" height="3.78" fill="#27808e"/><rect x="631.41" y="321.08" width="3.79" height="3.78" fill="#27808e"/><rect x="638.88" y="321.08" width="3.79" height="3.78" fill="#424086"/><rect x="608.99" y="324.81" width="3.79" height="3.78" fill="#27808e"/><rect x="612.73" y="324.81" width="3.79" height="3.78" fill="#482173"/><rect x="616.46" y="324.81" width="3.79" height="3.78" fill="#482173"/><rect x="620.20" y="324.81" width="3.79" height="3.78" fill="#482173"/><rect x="623.94" y="324.81" width="3.79" height="3.78" fill="#482173"/><rect x="627.67" y="324.81" width="3.79" height="3.78" fill="#2cb17e"/><rect x="631.41" y="324.81" width="3.79" height="3.78" fill="#27808e"/><rect x="638.88" y="324.81" width="3.79" height="3.78" fill="#482173"/><rect x="597.79" y="328.54" width="3.79" height="3.78" fill="#424086"/><rect x="605.26" y="328.54" width="3.79" height="3.78" fill="#2cb17e"/><rect x="608.99" y="328.54" width="3.79" height="3.78" fill="#424086"/><rect x="612.73" y="328.54" width="3.79" height="3.78" fill="#424086"/><rect x="616.46" y="328.54" width="3.79" height="3.78" fill="#482173"/><rect x="623.94" y="328.54" width="3.79" height="3.78" fill="#33628d"/><rect x="627.67" y="328.54" width="3.79" height="3.78" fill="#1f9a8a"/><rect x="631.41" y="328.54" width="3.79" height="3.78" fill="#27808e"/><rect x="601.52" y="332.27" width="3.79" height="3.78" fill="#424086"/><rect x="605.26" y="332.27" width="3.79" height="3.78" fill="#95d840"/><rect x="608.99" y="332.27" width="3.79" height="3.78" fill="#95d840"/><rect x="612.73" y="332.27" width="3.79" height="3.78" fill="#482173"/><rect x="616.46" y="332.27" width="3.79" height="3.78" fill="#482173"/><rect x="620.20" y="332.27" width="3.79" height="3.78" fill="#482173"/><rect x="623.94" y="332.27" width="3.79" height="3.78" fill="#424086"/><rect x="627.67" y="332.27" width="3.79" height="3.78" fill="#2cb17e"/><rect x="631.41" y="332.27" width="3.79" height="3.78" fill="#33628d"/><rect x="635.14" y="332.27" width="3.79" height="3.78" fill="#424086"/><rect x="638.88" y="332.27" width="3.79" height="3.78" fill="#482173"/><rect x="608.99" y="336.01" width="3.79" height="3.78" fill="#1f9a8a"/><rect x="612.73" y="336.01" width="3.79" height="3.78" fill="#27808e"/><rect x="616.46" y="336.01" width="3.79" height="3.78" fill="#2cb17e"/><rect x="620.20" y="336.01" width="3.79" height="3.78" fill="#2cb17e"/><rect x="623.94" y="336.01" width="3.79" height="3.78" fill="#1f9a8a"/><rect x="627.67" y="336.01" width="3.79" height="3.78" fill="#424086"/><rect x="631.41" y="336.01" width="3.79" height="3.78" fill="#33628d"/><rect x="635.14" y="336.01" width="3.79" height="3.78" fill="#482173"/><rect x="608.99" y="339.74" width="3.79" height="3.78" fill="#33628d"/><rect x="612.73" y="339.74" width="3.79" height="3.78" fill="#33628d"/><rect x="616.46" y="339.74" width="3.79" height="3.78" fill="#2cb17e"/><rect x="620.20" y="339.74" width="3.79" height="3.78" fill="#424086"/><rect x="623.94" y="339.74" width="3.79" height="3.78" fill="#2cb17e"/><rect x="627.67" y="339.74" width="3.79" height="3.78" fill="#33628d"/><rect x="631.41" y="339.74" width="3.79" height="3.78" fill="#424086"/><rect x="612.73" y="343.47" width="3.79" height="3.78" fill="#482173"/><rect x="616.46" y="343.47" width="3.79" height="3.78" fill="#27808e"/><rect x="620.20" y="343.47" width="3.79" height="3.78" fill="#424086"/><rect x="623.94" y="343.47" width="3.79" height="3.78" fill="#424086"/><rect x="627.67" y="343.47" width="3.79" height="3.78" fill="#482173"/><rect x="631.41" y="343.47" width="3.79" height="3.78" fill="#424086"/>
<rect x="567.90" y="253.90" width="104.60" height="104.50" fill="none" stroke="#1a1a1a" stroke-width="0.9"/>
<path d="M567.90,255.77h-3.5M569.77,358.40v3.5M567.90,293.09h-3.5M607.12,358.40v3.5M567.90,330.41h-3.5M644.48,358.40v3.5" stroke="#333" stroke-width="0.9" fill="none"/>
<text x="560.90" y="259.97" font-size="11" fill="#333" text-anchor="end" textLength="6.3" lengthAdjust="spacingAndGlyphs">0</text>
<text x="569.77" y="373.60" font-size="11" fill="#333" text-anchor="middle" textLength="6.3" lengthAdjust="spacingAndGlyphs">0</text>
<text x="560.90" y="297.29" font-size="11" fill="#333" text-anchor="end" textLength="12.4" lengthAdjust="spacingAndGlyphs">10</text>
<text x="607.12" y="373.60" font-size="11" fill="#333" text-anchor="middle" textLength="12.4" lengthAdjust="spacingAndGlyphs">10</text>
<text x="560.90" y="334.61" font-size="11" fill="#333" text-anchor="end" textLength="12.4" lengthAdjust="spacingAndGlyphs">20</text>
<text x="644.48" y="373.60" font-size="11" fill="#333" text-anchor="middle" textLength="12.4" lengthAdjust="spacingAndGlyphs">20</text>
<path d="M492.3,395.7 Q535.9,363.9 580.0,396.1" fill="none" stroke="#111" stroke-width="1.25"/>
<path d="M585.8,399.2 L580.2,393.0 L577.4,397.2 Z" fill="#111" stroke="#111" stroke-width="0.6" stroke-linejoin="round"/>
<text x="515.9" y="398.3" font-size="15.3" fill="#111" text-anchor="start" textLength="32.1" lengthAdjust="spacingAndGlyphs" stroke="#111" stroke-width="0.12">Drift</text>
<rect x="512.8" y="405.1" width="47.4" height="20.2" rx="3.5" fill="#f6e4e4"/>
<text x="516.8" y="421.4" font-size="16.0" fill="#3a1010" text-anchor="start" textLength="33.2" lengthAdjust="spacingAndGlyphs" stroke="#3a1010" stroke-width="0.12">12 K</text>
<text x="412.8" y="431.7" font-size="16.5" fill="#111" textLength="37.6" lengthAdjust="spacingAndGlyphs">t=10</text>
<text x="449.7" y="427.4" font-size="10.5" fill="#111" textLength="9.8" lengthAdjust="spacingAndGlyphs">-3</text>
<text x="468.4" y="431.7" font-size="16.5" fill="#111">s</text>
<text x="597.7" y="432.4" font-size="16.5" fill="#111" textLength="54.4" lengthAdjust="spacingAndGlyphs">t=6x10</text>
<text x="651.1" y="428.0" font-size="10" fill="#111" textLength="5.8" lengthAdjust="spacingAndGlyphs">7</text>
<text x="668.7" y="432.4" font-size="16.5" fill="#111">s</text>
<rect x="409.20" y="436.90" width="105.60" height="105.40" fill="#471063"/>
<rect x="458.23" y="451.96" width="3.82" height="3.81" fill="#482173"/><rect x="462.00" y="451.96" width="3.82" height="3.81" fill="#482173"/><rect x="469.54" y="451.96" width="3.82" height="3.81" fill="#424086"/><rect x="446.91" y="455.72" width="3.82" height="3.81" fill="#482173"/><rect x="450.69" y="455.72" width="3.82" height="3.81" fill="#482173"/><rect x="458.23" y="455.72" width="3.82" height="3.81" fill="#1f9a8a"/><rect x="462.00" y="455.72" width="3.82" height="3.81" fill="#27808e"/><rect x="465.77" y="455.72" width="3.82" height="3.81" fill="#27808e"/><rect x="469.54" y="455.72" width="3.82" height="3.81" fill="#33628d"/><rect x="473.31" y="455.72" width="3.82" height="3.81" fill="#482173"/><rect x="477.09" y="455.72" width="3.82" height="3.81" fill="#482173"/><rect x="443.14" y="459.49" width="3.82" height="3.81" fill="#482173"/><rect x="446.91" y="459.49" width="3.82" height="3.81" fill="#424086"/><rect x="450.69" y="459.49" width="3.82" height="3.81" fill="#27808e"/><rect x="454.46" y="459.49" width="3.82" height="3.81" fill="#424086"/><rect x="458.23" y="459.49" width="3.82" height="3.81" fill="#1f9a8a"/><rect x="462.00" y="459.49" width="3.82" height="3.81" fill="#cae11f"/><rect x="465.77" y="459.49" width="3.82" height="3.81" fill="#33628d"/><rect x="469.54" y="459.49" width="3.82" height="3.81" fill="#1f9a8a"/><rect x="473.31" y="459.49" width="3.82" height="3.81" fill="#1f9a8a"/><rect x="477.09" y="459.49" width="3.82" height="3.81" fill="#27808e"/><rect x="480.86" y="459.49" width="3.82" height="3.81" fill="#482173"/><rect x="484.63" y="459.49" width="3.82" height="3.81" fill="#33628d"/><rect x="435.60" y="463.25" width="3.82" height="3.81" fill="#482173"/><rect x="439.37" y="463.25" width="3.82" height="3.81" fill="#33628d"/><rect x="443.14" y="463.25" width="3.82" height="3.81" fill="#424086"/><rect x="446.91" y="463.25" width="3.82" height="3.81" fill="#33628d"/><rect x="450.69" y="463.25" width="3.82" height="3.81" fill="#27808e"/><rect x="454.46" y="463.25" width="3.82" height="3.81" fill="#33628d"/><rect x="458.23" y="463.25" width="3.82" height="3.81" fill="#27808e"/><rect x="462.00" y="463.25" width="3.82" height="3.81" fill="#27808e"/><rect x="465.77" y="463.25" width="3.82" height="3.81" fill="#27808e"/><rect x="469.54" y="463.25" width="3.82" height="3.81" fill="#2cb17e"/><rect x="473.31" y="463.25" width="3.82" height="3.81" fill="#1f9a8a"/><rect x="477.09" y="463.25" width="3.82" height="3.81" fill="#2cb17e"/><rect x="480.86" y="463.25" width="3.82" height="3.81" fill="#1f9a8a"/><rect x="484.63" y="463.25" width="3.82" height="3.81" fill="#482173"/><rect x="439.37" y="467.01" width="3.82" height="3.81" fill="#482173"/><rect x="443.14" y="467.01" width="3.82" height="3.81" fill="#482173"/><rect x="446.91" y="467.01" width="3.82" height="3.81" fill="#1f9a8a"/><rect x="450.69" y="467.01" width="3.82" height="3.81" fill="#27808e"/><rect x="454.46" y="467.01" width="3.82" height="3.81" fill="#1f9a8a"/><rect x="458.23" y="467.01" width="3.82" height="3.81" fill="#482173"/><rect x="462.00" y="467.01" width="3.82" height="3.81" fill="#482173"/><rect x="465.77" y="467.01" width="3.82" height="3.81" fill="#482173"/><rect x="469.54" y="467.01" width="3.82" height="3.81" fill="#33628d"/><rect x="473.31" y="467.01" width="3.82" height="3.81" fill="#27808e"/><rect x="477.09" y="467.01" width="3.82" height="3.81" fill="#58c765"/><rect x="480.86" y="467.01" width="3.82" height="3.81" fill="#1f9a8a"/><rect x="484.63" y="467.01" width="3.82" height="3.81" fill="#424086"/><rect x="431.83" y="470.78" width="3.82" height="3.81" fill="#424086"/><rect x="435.60" y="470.78" width="3.82" height="3.81" fill="#482173"/><rect x="439.37" y="470.78" width="3.82" height="3.81" fill="#33628d"/><rect x="443.14" y="470.78" width="3.82" height="3.81" fill="#33628d"/><rect x="446.91" y="470.78" width="3.82" height="3.81" fill="#27808e"/><rect x="450.69" y="470.78" width="3.82" height="3.81" fill="#2cb17e"/><rect x="454.46" y="470.78" width="3.82" height="3.81" fill="#482173"/><rect x="458.23" y="470.78" width="3.82" height="3.81" fill="#424086"/><rect x="462.00" y="470.78" width="3.82" height="3.81" fill="#482173"/><rect x="465.77" y="470.78" width="3.82" height="3.81" fill="#424086"/><rect x="469.54" y="470.78" width="3.82" height="3.81" fill="#27808e"/><rect x="473.31" y="470.78" width="3.82" height="3.81" fill="#482173"/><rect x="477.09" y="470.78" width="3.82" height="3.81" fill="#2cb17e"/><rect x="480.86" y="470.78" width="3.82" height="3.81" fill="#33628d"/><rect x="484.63" y="470.78" width="3.82" height="3.81" fill="#424086"/><rect x="488.40" y="470.78" width="3.82" height="3.81" fill="#482173"/><rect x="435.60" y="474.54" width="3.82" height="3.81" fill="#482173"/><rect x="439.37" y="474.54" width="3.82" height="3.81" fill="#424086"/><rect x="443.14" y="474.54" width="3.82" height="3.81" fill="#482173"/><rect x="446.91" y="474.54" width="3.82" height="3.81" fill="#1f9a8a"/><rect x="450.69" y="474.54" width="3.82" height="3.81" fill="#1f9a8a"/><rect x="454.46" y="474.54" width="3.82" height="3.81" fill="#482173"/><rect x="469.54" y="474.54" width="3.82" height="3.81" fill="#33628d"/><rect x="473.31" y="474.54" width="3.82" height="3.81" fill="#424086"/><rect x="477.09" y="474.54" width="3.82" height="3.81" fill="#1f9a8a"/><rect x="480.86" y="474.54" width="3.82" height="3.81" fill="#2cb17e"/><rect x="484.63" y="474.54" width="3.82" height="3.81" fill="#482173"/><rect x="488.40" y="474.54" width="3.82" height="3.81" fill="#424086"/><rect x="431.83" y="478.31" width="3.82" height="3.81" fill="#424086"/><rect x="435.60" y="478.31" width="3.82" height="3.81" fill="#424086"/><rect x="439.37" y="478.31" width="3.82" height="3.81" fill="#482173"/><rect x="443.14" y="478.31" width="3.82" height="3.81" fill="#424086"/><rect x="446.91" y="478.31" width="3.82" height="3.81" fill="#27808e"/><rect x="450.69" y="478.31" width="3.82" height="3.81" fill="#2cb17e"/><rect x="454.46" y="478.31" width="3.82" height="3.81" fill="#482173"/><rect x="469.54" y="478.31" width="3.82" height="3.81" fill="#27808e"/><rect x="473.31" y="478.31" width="3.82" height="3.81" fill="#27808e"/><rect x="477.09" y="478.31" width="3.82" height="3.81" fill="#58c765"/><rect x="480.86" y="478.31" width="3.82" height="3.81" fill="#33628d"/><rect x="484.63" y="478.31" width="3.82" height="3.81" fill="#482173"/><rect x="435.60" y="482.07" width="3.82" height="3.81" fill="#482173"/><rect x="439.37" y="482.07" width="3.82" height="3.81" fill="#482173"/><rect x="443.14" y="482.07" width="3.82" height="3.81" fill="#424086"/><rect x="446.91" y="482.07" width="3.82" height="3.81" fill="#2cb17e"/><rect x="450.69" y="482.07" width="3.82" height="3.81" fill="#27808e"/><rect x="454.46" y="482.07" width="3.82" height="3.81" fill="#27808e"/><rect x="458.23" y="482.07" width="3.82" height="3.81" fill="#482173"/><rect x="462.00" y="482.07" width="3.82" height="3.81" fill="#424086"/><rect x="465.77" y="482.07" width="3.82" height="3.81" fill="#58c765"/><rect x="469.54" y="482.07" width="3.82" height="3.81" fill="#1f9a8a"/><rect x="473.31" y="482.07" width="3.82" height="3.81" fill="#1f9a8a"/><rect x="477.09" y="482.07" width="3.82" height="3.81" fill="#424086"/><rect x="480.86" y="482.07" width="3.82" height="3.81" fill="#482173"/><rect x="484.63" y="482.07" width="3.82" height="3.81" fill="#482173"/><rect x="443.14" y="485.84" width="3.82" height="3.81" fill="#482173"/><rect x="446.91" y="485.84" width="3.82" height="3.81" fill="#424086"/><rect x="450.69" y="485.84" width="3.82" height="3.81" fill="#58c765"/><rect x="454.46" y="485.84" width="3.82" height="3.81" fill="#1f9a8a"/><rect x="458.23" y="485.84" width="3.82" height="3.81" fill="#424086"/><rect x="462.00" y="485.84" width="3.82" height="3.81" fill="#33628d"/><rect x="465.77" y="485.84" width="3.82" height="3.81" fill="#2cb17e"/><rect x="469.54" y="485.84" width="3.82" height="3.81" fill="#1f9a8a"/><rect x="473.31" y="485.84" width="3.82" height="3.81" fill="#424086"/><rect x="477.09" y="485.84" width="3.82" height="3.81" fill="#482173"/><rect x="446.91" y="489.60" width="3.82" height="3.81" fill="#482173"/><rect x="450.69" y="489.60" width="3.82" height="3.81" fill="#424086"/><rect x="454.46" y="489.60" width="3.82" height="3.81" fill="#27808e"/><rect x="458.23" y="489.60" width="3.82" height="3.81" fill="#33628d"/><rect x="462.00" y="489.60" width="3.82" height="3.81" fill="#1f9a8a"/><rect x="465.77" y="489.60" width="3.82" height="3.81" fill="#1f9a8a"/><rect x="469.54" y="489.60" width="3.82" height="3.81" fill="#58c765"/><rect x="473.31" y="489.60" width="3.82" height="3.81" fill="#33628d"/><rect x="477.09" y="489.60" width="3.82" height="3.81" fill="#424086"/><rect x="443.14" y="493.36" width="3.82" height="3.81" fill="#482173"/><rect x="454.46" y="493.36" width="3.82" height="3.81" fill="#27808e"/><rect x="458.23" y="493.36" width="3.82" height="3.81" fill="#58c765"/><rect x="462.00" y="493.36" width="3.82" height="3.81" fill="#1f9a8a"/><rect x="465.77" y="493.36" width="3.82" height="3.81" fill="#95d840"/><rect x="469.54" y="493.36" width="3.82" height="3.81" fill="#1f9a8a"/><rect x="477.09" y="493.36" width="3.82" height="3.81" fill="#482173"/><rect x="443.14" y="497.13" width="3.82" height="3.81" fill="#482173"/><rect x="454.46" y="497.13" width="3.82" height="3.81" fill="#27808e"/><rect x="458.23" y="497.13" width="3.82" height="3.81" fill="#1f9a8a"/><rect x="462.00" y="497.13" width="3.82" height="3.81" fill="#27808e"/><rect x="465.77" y="497.13" width="3.82" height="3.81" fill="#1f9a8a"/><rect x="469.54" y="497.13" width="3.82" height="3.81" fill="#95d840"/><rect x="473.31" y="497.13" width="3.82" height="3.81" fill="#33628d"/><rect x="443.14" y="500.89" width="3.82" height="3.81" fill="#482173"/><rect x="450.69" y="500.89" width="3.82" height="3.81" fill="#1f9a8a"/><rect x="454.46" y="500.89" width="3.82" height="3.81" fill="#33628d"/><rect x="458.23" y="500.89" width="3.82" height="3.81" fill="#2cb17e"/><rect x="462.00" y="500.89" width="3.82" height="3.81" fill="#2cb17e"/><rect x="465.77" y="500.89" width="3.82" height="3.81" fill="#2cb17e"/><rect x="469.54" y="500.89" width="3.82" height="3.81" fill="#27808e"/><rect x="473.31" y="500.89" width="3.82" height="3.81" fill="#27808e"/><rect x="477.09" y="500.89" width="3.82" height="3.81" fill="#424086"/><rect x="480.86" y="500.89" width="3.82" height="3.81" fill="#424086"/><rect x="443.14" y="504.66" width="3.82" height="3.81" fill="#482173"/><rect x="446.91" y="504.66" width="3.82" height="3.81" fill="#424086"/><rect x="450.69" y="504.66" width="3.82" height="3.81" fill="#1f9a8a"/><rect x="454.46" y="504.66" width="3.82" height="3.81" fill="#33628d"/><rect x="458.23" y="504.66" width="3.82" height="3.81" fill="#482173"/><rect x="462.00" y="504.66" width="3.82" height="3.81" fill="#424086"/><rect x="465.77" y="504.66" width="3.82" height="3.81" fill="#424086"/><rect x="469.54" y="504.66" width="3.82" height="3.81" fill="#33628d"/><rect x="473.31" y="504.66" width="3.82" height="3.81" fill="#27808e"/><rect x="477.09" y="504.66" width="3.82" height="3.81" fill="#482173"/><rect x="480.86" y="504.66" width="3.82" height="3.81" fill="#424086"/><rect x="443.14" y="508.42" width="3.82" height="3.81" fill="#482173"/><rect x="446.91" y="508.42" width="3.82" height="3.81" fill="#27808e"/><rect x="450.69" y="508.42" width="3.82" height="3.81" fill="#27808e"/><rect x="454.46" y="508.42" width="3.82" height="3.81" fill="#482173"/><rect x="469.54" y="508.42" width="3.82" height="3.81" fill="#2cb17e"/><rect x="473.31" y="508.42" width="3.82" height="3.81" fill="#33628d"/><rect x="477.09" y="508.42" width="3.82" height="3.81" fill="#482173"/><rect x="439.37" y="512.19" width="3.82" height="3.81" fill="#424086"/><rect x="446.91" y="512.19" width="3.82" height="3.81" fill="#2cb17e"/><rect x="450.69" y="512.19" width="3.82" height="3.81" fill="#58c765"/><rect x="454.46" y="512.19" width="3.82" height="3.81" fill="#424086"/><rect x="469.54" y="512.19" width="3.82" height="3.81" fill="#424086"/><rect x="473.31" y="512.19" width="3.82" height="3.81" fill="#27808e"/><rect x="439.37" y="515.95" width="3.82" height="3.81" fill="#482173"/><rect x="446.91" y="515.95" width="3.82" height="3.81" fill="#2cb17e"/><rect x="450.69" y="515.95" width="3.82" height="3.81" fill="#33628d"/><rect x="454.46" y="515.95" width="3.82" height="3.81" fill="#482173"/><rect x="458.23" y="515.95" width="3.82" height="3.81" fill="#482173"/><rect x="469.54" y="515.95" width="3.82" height="3.81" fill="#2cb17e"/><rect x="473.31" y="515.95" width="3.82" height="3.81" fill="#33628d"/><rect x="443.14" y="519.71" width="3.82" height="3.81" fill="#482173"/><rect x="446.91" y="519.71" width="3.82" height="3.81" fill="#1f9a8a"/><rect x="450.69" y="519.71" width="3.82" height="3.81" fill="#95d840"/><rect x="454.46" y="519.71" width="3.82" height="3.81" fill="#27808e"/><rect x="458.23" y="519.71" width="3.82" height="3.81" fill="#27808e"/><rect x="462.00" y="519.71" width="3.82" height="3.81" fill="#1f9a8a"/><rect x="465.77" y="519.71" width="3.82" height="3.81" fill="#424086"/><rect x="469.54" y="519.71" width="3.82" height="3.81" fill="#33628d"/><rect x="473.31" y="519.71" width="3.82" height="3.81" fill="#27808e"/><rect x="477.09" y="519.71" width="3.82" height="3.81" fill="#424086"/><rect x="480.86" y="519.71" width="3.82" height="3.81" fill="#424086"/><rect x="450.69" y="523.48" width="3.82" height="3.81" fill="#1f9a8a"/><rect x="454.46" y="523.48" width="3.82" height="3.81" fill="#58c765"/><rect x="458.23" y="523.48" width="3.82" height="3.81" fill="#1f9a8a"/><rect x="462.00" y="523.48" width="3.82" height="3.81" fill="#27808e"/><rect x="465.77" y="523.48" width="3.82" height="3.81" fill="#1f9a8a"/><rect x="469.54" y="523.48" width="3.82" height="3.81" fill="#1f9a8a"/><rect x="473.31" y="523.48" width="3.82" height="3.81" fill="#482173"/><rect x="477.09" y="523.48" width="3.82" height="3.81" fill="#424086"/><rect x="450.69" y="527.24" width="3.82" height="3.81" fill="#424086"/><rect x="454.46" y="527.24" width="3.82" height="3.81" fill="#424086"/><rect x="458.23" y="527.24" width="3.82" height="3.81" fill="#1f9a8a"/><rect x="462.00" y="527.24" width="3.82" height="3.81" fill="#27808e"/><rect x="465.77" y="527.24" width="3.82" height="3.81" fill="#482173"/><rect x="473.31" y="527.24" width="3.82" height="3.81" fill="#482173"/><rect x="458.23" y="531.01" width="3.82" height="3.81" fill="#482173"/>
<rect x="409.20" y="436.90" width="105.60" height="105.40" fill="none" stroke="#1a1a1a" stroke-width="0.9"/>
<path d="M409.20,438.78h-3.5M411.09,542.30v3.5M409.20,476.42h-3.5M448.80,542.30v3.5M409.20,514.07h-3.5M486.51,542.30v3.5" stroke="#333" stroke-width="0.9" fill="none"/>
<text x="402.20" y="442.98" font-size="11" fill="#333" text-anchor="end" textLength="6.3" lengthAdjust="spacingAndGlyphs">0</text>
<text x="411.09" y="557.50" font-size="11" fill="#333" text-anchor="middle" textLength="6.3" lengthAdjust="spacingAndGlyphs">0</text>
<text x="402.20" y="480.62" font-size="11" fill="#333" text-anchor="end" textLength="12.4" lengthAdjust="spacingAndGlyphs">10</text>
<text x="448.80" y="557.50" font-size="11" fill="#333" text-anchor="middle" textLength="12.4" lengthAdjust="spacingAndGlyphs">10</text>
<text x="402.20" y="518.27" font-size="11" fill="#333" text-anchor="end" textLength="12.4" lengthAdjust="spacingAndGlyphs">20</text>
<text x="486.51" y="557.50" font-size="11" fill="#333" text-anchor="middle" textLength="12.4" lengthAdjust="spacingAndGlyphs">20</text>
<rect x="566.90" y="437.30" width="106.10" height="105.50" fill="#471063"/>
<rect x="616.16" y="456.14" width="3.84" height="3.82" fill="#482173"/><rect x="619.95" y="456.14" width="3.84" height="3.82" fill="#1f9a8a"/><rect x="623.74" y="456.14" width="3.84" height="3.82" fill="#1f9a8a"/><rect x="627.53" y="456.14" width="3.84" height="3.82" fill="#482173"/><rect x="631.32" y="456.14" width="3.84" height="3.82" fill="#482173"/><rect x="635.11" y="456.14" width="3.84" height="3.82" fill="#424086"/><rect x="604.79" y="459.91" width="3.84" height="3.82" fill="#424086"/><rect x="608.58" y="459.91" width="3.84" height="3.82" fill="#424086"/><rect x="612.37" y="459.91" width="3.84" height="3.82" fill="#27808e"/><rect x="616.16" y="459.91" width="3.84" height="3.82" fill="#27808e"/><rect x="619.95" y="459.91" width="3.84" height="3.82" fill="#58c765"/><rect x="623.74" y="459.91" width="3.84" height="3.82" fill="#2cb17e"/><rect x="627.53" y="459.91" width="3.84" height="3.82" fill="#27808e"/><rect x="631.32" y="459.91" width="3.84" height="3.82" fill="#27808e"/><rect x="635.11" y="459.91" width="3.84" height="3.82" fill="#1f9a8a"/><rect x="597.21" y="463.68" width="3.84" height="3.82" fill="#482173"/><rect x="604.79" y="463.68" width="3.84" height="3.82" fill="#33628d"/><rect x="608.58" y="463.68" width="3.84" height="3.82" fill="#1f9a8a"/><rect x="612.37" y="463.68" width="3.84" height="3.82" fill="#424086"/><rect x="616.16" y="463.68" width="3.84" height="3.82" fill="#27808e"/><rect x="619.95" y="463.68" width="3.84" height="3.82" fill="#1f9a8a"/><rect x="623.74" y="463.68" width="3.84" height="3.82" fill="#424086"/><rect x="627.53" y="463.68" width="3.84" height="3.82" fill="#1f9a8a"/><rect x="631.32" y="463.68" width="3.84" height="3.82" fill="#33628d"/><rect x="635.11" y="463.68" width="3.84" height="3.82" fill="#2cb17e"/><rect x="638.90" y="463.68" width="3.84" height="3.82" fill="#cae11f"/><rect x="642.69" y="463.68" width="3.84" height="3.82" fill="#482173"/><rect x="646.48" y="463.68" width="3.84" height="3.82" fill="#482173"/><rect x="593.42" y="467.44" width="3.84" height="3.82" fill="#424086"/><rect x="597.21" y="467.44" width="3.84" height="3.82" fill="#482173"/><rect x="604.79" y="467.44" width="3.84" height="3.82" fill="#1f9a8a"/><rect x="608.58" y="467.44" width="3.84" height="3.82" fill="#1f9a8a"/><rect x="612.37" y="467.44" width="3.84" height="3.82" fill="#27808e"/><rect x="616.16" y="467.44" width="3.84" height="3.82" fill="#482173"/><rect x="619.95" y="467.44" width="3.84" height="3.82" fill="#482173"/><rect x="623.74" y="467.44" width="3.84" height="3.82" fill="#482173"/><rect x="627.53" y="467.44" width="3.84" height="3.82" fill="#482173"/><rect x="631.32" y="467.44" width="3.84" height="3.82" fill="#27808e"/><rect x="635.11" y="467.44" width="3.84" height="3.82" fill="#27808e"/><rect x="638.90" y="467.44" width="3.84" height="3.82" fill="#27808e"/><rect x="597.21" y="471.21" width="3.84" height="3.82" fill="#27808e"/><rect x="601.00" y="471.21" width="3.84" height="3.82" fill="#482173"/><rect x="604.79" y="471.21" width="3.84" height="3.82" fill="#424086"/><rect x="608.58" y="471.21" width="3.84" height="3.82" fill="#27808e"/><rect x="612.37" y="471.21" width="3.84" height="3.82" fill="#482173"/><rect x="627.53" y="471.21" width="3.84" height="3.82" fill="#482173"/><rect x="631.32" y="471.21" width="3.84" height="3.82" fill="#424086"/><rect x="635.11" y="471.21" width="3.84" height="3.82" fill="#27808e"/><rect x="638.90" y="471.21" width="3.84" height="3.82" fill="#2cb17e"/><rect x="642.69" y="471.21" width="3.84" height="3.82" fill="#424086"/><rect x="593.42" y="474.98" width="3.84" height="3.82" fill="#424086"/><rect x="597.21" y="474.98" width="3.84" height="3.82" fill="#482173"/><rect x="601.00" y="474.98" width="3.84" height="3.82" fill="#482173"/><rect x="604.79" y="474.98" width="3.84" height="3.82" fill="#27808e"/><rect x="608.58" y="474.98" width="3.84" height="3.82" fill="#2cb17e"/><rect x="612.37" y="474.98" width="3.84" height="3.82" fill="#482173"/><rect x="627.53" y="474.98" width="3.84" height="3.82" fill="#482173"/><rect x="631.32" y="474.98" width="3.84" height="3.82" fill="#1f9a8a"/><rect x="635.11" y="474.98" width="3.84" height="3.82" fill="#482173"/><rect x="638.90" y="474.98" width="3.84" height="3.82" fill="#2cb17e"/><rect x="593.42" y="478.75" width="3.84" height="3.82" fill="#482173"/><rect x="604.79" y="478.75" width="3.84" height="3.82" fill="#1f9a8a"/><rect x="608.58" y="478.75" width="3.84" height="3.82" fill="#33628d"/><rect x="612.37" y="478.75" width="3.84" height="3.82" fill="#482173"/><rect x="616.16" y="478.75" width="3.84" height="3.82" fill="#424086"/><rect x="619.95" y="478.75" width="3.84" height="3.82" fill="#33628d"/><rect x="623.74" y="478.75" width="3.84" height="3.82" fill="#482173"/><rect x="627.53" y="478.75" width="3.84" height="3.82" fill="#33628d"/><rect x="631.32" y="478.75" width="3.84" height="3.82" fill="#1f9a8a"/><rect x="597.21" y="482.51" width="3.84" height="3.82" fill="#482173"/><rect x="604.79" y="482.51" width="3.84" height="3.82" fill="#1f9a8a"/><rect x="608.58" y="482.51" width="3.84" height="3.82" fill="#1f9a8a"/><rect x="612.37" y="482.51" width="3.84" height="3.82" fill="#27808e"/><rect x="616.16" y="482.51" width="3.84" height="3.82" fill="#482173"/><rect x="619.95" y="482.51" width="3.84" height="3.82" fill="#424086"/><rect x="623.74" y="482.51" width="3.84" height="3.82" fill="#58c765"/><rect x="627.53" y="482.51" width="3.84" height="3.82" fill="#27808e"/><rect x="631.32" y="482.51" width="3.84" height="3.82" fill="#27808e"/><rect x="638.90" y="482.51" width="3.84" height="3.82" fill="#424086"/><rect x="601.00" y="486.28" width="3.84" height="3.82" fill="#424086"/><rect x="604.79" y="486.28" width="3.84" height="3.82" fill="#482173"/><rect x="608.58" y="486.28" width="3.84" height="3.82" fill="#33628d"/><rect x="612.37" y="486.28" width="3.84" height="3.82" fill="#1f9a8a"/><rect x="616.16" y="486.28" width="3.84" height="3.82" fill="#1f9a8a"/><rect x="619.95" y="486.28" width="3.84" height="3.82" fill="#27808e"/><rect x="623.74" y="486.28" width="3.84" height="3.82" fill="#1f9a8a"/><rect x="627.53" y="486.28" width="3.84" height="3.82" fill="#27808e"/><rect x="631.32" y="486.28" width="3.84" height="3.82" fill="#27808e"/><rect x="601.00" y="490.05" width="3.84" height="3.82" fill="#482173"/><rect x="604.79" y="490.05" width="3.84" height="3.82" fill="#482173"/><rect x="612.37" y="490.05" width="3.84" height="3.82" fill="#33628d"/><rect x="616.16" y="490.05" width="3.84" height="3.82" fill="#2cb17e"/><rect x="619.95" y="490.05" width="3.84" height="3.82" fill="#58c765"/><rect x="623.74" y="490.05" width="3.84" height="3.82" fill="#27808e"/><rect x="627.53" y="490.05" width="3.84" height="3.82" fill="#424086"/><rect x="612.37" y="493.82" width="3.84" height="3.82" fill="#33628d"/><rect x="616.16" y="493.82" width="3.84" height="3.82" fill="#58c765"/><rect x="619.95" y="493.82" width="3.84" height="3.82" fill="#1f9a8a"/><rect x="623.74" y="493.82" width="3.84" height="3.82" fill="#424086"/><rect x="627.53" y="493.82" width="3.84" height="3.82" fill="#33628d"/><rect x="608.58" y="497.59" width="3.84" height="3.82" fill="#482173"/><rect x="612.37" y="497.59" width="3.84" height="3.82" fill="#1f9a8a"/><rect x="616.16" y="497.59" width="3.84" height="3.82" fill="#33628d"/><rect x="619.95" y="497.59" width="3.84" height="3.82" fill="#424086"/><rect x="623.74" y="497.59" width="3.84" height="3.82" fill="#58c765"/><rect x="627.53" y="497.59" width="3.84" height="3.82" fill="#33628d"/><rect x="601.00" y="501.35" width="3.84" height="3.82" fill="#482173"/><rect x="604.79" y="501.35" width="3.84" height="3.82" fill="#482173"/><rect x="608.58" y="501.35" width="3.84" height="3.82" fill="#27808e"/><rect x="612.37" y="501.35" width="3.84" height="3.82" fill="#33628d"/><rect x="616.16" y="501.35" width="3.84" height="3.82" fill="#1f9a8a"/><rect x="619.95" y="501.35" width="3.84" height="3.82" fill="#1f9a8a"/><rect x="623.74" y="501.35" width="3.84" height="3.82" fill="#1f9a8a"/><rect x="627.53" y="501.35" width="3.84" height="3.82" fill="#27808e"/><rect x="631.32" y="501.35" width="3.84" height="3.82" fill="#33628d"/><rect x="635.11" y="501.35" width="3.84" height="3.82" fill="#424086"/><rect x="608.58" y="505.12" width="3.84" height="3.82" fill="#424086"/><rect x="612.37" y="505.12" width="3.84" height="3.82" fill="#cae11f"/><rect x="616.16" y="505.12" width="3.84" height="3.82" fill="#424086"/><rect x="619.95" y="505.12" width="3.84" height="3.82" fill="#482173"/><rect x="623.74" y="505.12" width="3.84" height="3.82" fill="#482173"/><rect x="627.53" y="505.12" width="3.84" height="3.82" fill="#33628d"/><rect x="631.32" y="505.12" width="3.84" height="3.82" fill="#95d840"/><rect x="635.11" y="505.12" width="3.84" height="3.82" fill="#424086"/><rect x="601.00" y="508.89" width="3.84" height="3.82" fill="#424086"/><rect x="604.79" y="508.89" width="3.84" height="3.82" fill="#33628d"/><rect x="608.58" y="508.89" width="3.84" height="3.82" fill="#33628d"/><rect x="612.37" y="508.89" width="3.84" height="3.82" fill="#482173"/><rect x="616.16" y="508.89" width="3.84" height="3.82" fill="#424086"/><rect x="619.95" y="508.89" width="3.84" height="3.82" fill="#482173"/><rect x="627.53" y="508.89" width="3.84" height="3.82" fill="#27808e"/><rect x="631.32" y="508.89" width="3.84" height="3.82" fill="#1f9a8a"/><rect x="635.11" y="508.89" width="3.84" height="3.82" fill="#482173"/><rect x="638.90" y="508.89" width="3.84" height="3.82" fill="#482173"/><rect x="604.79" y="512.66" width="3.84" height="3.82" fill="#27808e"/><rect x="608.58" y="512.66" width="3.84" height="3.82" fill="#424086"/><rect x="612.37" y="512.66" width="3.84" height="3.82" fill="#482173"/><rect x="616.16" y="512.66" width="3.84" height="3.82" fill="#482173"/><rect x="619.95" y="512.66" width="3.84" height="3.82" fill="#482173"/><rect x="627.53" y="512.66" width="3.84" height="3.82" fill="#2cb17e"/><rect x="631.32" y="512.66" width="3.84" height="3.82" fill="#27808e"/><rect x="635.11" y="512.66" width="3.84" height="3.82" fill="#482173"/><rect x="638.90" y="512.66" width="3.84" height="3.82" fill="#424086"/><rect x="601.00" y="516.42" width="3.84" height="3.82" fill="#482173"/><rect x="604.79" y="516.42" width="3.84" height="3.82" fill="#95d840"/><rect x="608.58" y="516.42" width="3.84" height="3.82" fill="#27808e"/><rect x="612.37" y="516.42" width="3.84" height="3.82" fill="#482173"/><rect x="616.16" y="516.42" width="3.84" height="3.82" fill="#424086"/><rect x="623.74" y="516.42" width="3.84" height="3.82" fill="#482173"/><rect x="627.53" y="516.42" width="3.84" height="3.82" fill="#33628d"/><rect x="631.32" y="516.42" width="3.84" height="3.82" fill="#33628d"/><rect x="638.90" y="516.42" width="3.84" height="3.82" fill="#424086"/><rect x="604.79" y="520.19" width="3.84" height="3.82" fill="#1f9a8a"/><rect x="608.58" y="520.19" width="3.84" height="3.82" fill="#1f9a8a"/><rect x="612.37" y="520.19" width="3.84" height="3.82" fill="#33628d"/><rect x="616.16" y="520.19" width="3.84" height="3.82" fill="#2cb17e"/><rect x="619.95" y="520.19" width="3.84" height="3.82" fill="#33628d"/><rect x="623.74" y="520.19" width="3.84" height="3.82" fill="#27808e"/><rect x="627.53" y="520.19" width="3.84" height="3.82" fill="#27808e"/><rect x="631.32" y="520.19" width="3.84" height="3.82" fill="#33628d"/><rect x="638.90" y="520.19" width="3.84" height="3.82" fill="#424086"/><rect x="601.00" y="523.96" width="3.84" height="3.82" fill="#424086"/><rect x="604.79" y="523.96" width="3.84" height="3.82" fill="#424086"/><rect x="608.58" y="523.96" width="3.84" height="3.82" fill="#27808e"/><rect x="612.37" y="523.96" width="3.84" height="3.82" fill="#27808e"/><rect x="616.16" y="523.96" width="3.84" height="3.82" fill="#33628d"/><rect x="619.95" y="523.96" width="3.84" height="3.82" fill="#1f9a8a"/><rect x="623.74" y="523.96" width="3.84" height="3.82" fill="#424086"/><rect x="627.53" y="523.96" width="3.84" height="3.82" fill="#424086"/><rect x="631.32" y="523.96" width="3.84" height="3.82" fill="#482173"/><rect x="635.11" y="523.96" width="3.84" height="3.82" fill="#33628d"/><rect x="604.79" y="527.73" width="3.84" height="3.82" fill="#482173"/><rect x="608.58" y="527.73" width="3.84" height="3.82" fill="#482173"/><rect x="612.37" y="527.73" width="3.84" height="3.82" fill="#482173"/><rect x="616.16" y="527.73" width="3.84" height="3.82" fill="#1f9a8a"/><rect x="619.95" y="527.73" width="3.84" height="3.82" fill="#1f9a8a"/><rect x="623.74" y="527.73" width="3.84" height="3.82" fill="#482173"/><rect x="627.53" y="527.73" width="3.84" height="3.82" fill="#482173"/><rect x="631.32" y="527.73" width="3.84" height="3.82" fill="#482173"/>
<rect x="566.90" y="437.30" width="106.10" height="105.50" fill="none" stroke="#1a1a1a" stroke-width="0.9"/>
<path d="M566.90,439.18h-3.5M568.79,542.80v3.5M566.90,476.86h-3.5M606.69,542.80v3.5M566.90,514.54h-3.5M644.58,542.80v3.5" stroke="#333" stroke-width="0.9" fill="none"/>
<text x="559.90" y="443.38" font-size="11" fill="#333" text-anchor="end" textLength="6.3" lengthAdjust="spacingAndGlyphs">0</text>
<text x="568.79" y="558.00" font-size="11" fill="#333" text-anchor="middle" textLength="6.3" lengthAdjust="spacingAndGlyphs">0</text>
<text x="559.90" y="481.06" font-size="11" fill="#333" text-anchor="end" textLength="12.4" lengthAdjust="spacingAndGlyphs">10</text>
<text x="606.69" y="558.00" font-size="11" fill="#333" text-anchor="middle" textLength="12.4" lengthAdjust="spacingAndGlyphs">10</text>
<text x="559.90" y="518.74" font-size="11" fill="#333" text-anchor="end" textLength="12.4" lengthAdjust="spacingAndGlyphs">20</text>
<text x="644.58" y="558.00" font-size="11" fill="#333" text-anchor="middle" textLength="12.4" lengthAdjust="spacingAndGlyphs">20</text>
<defs><linearGradient id="vg" x1="0" x2="1" y1="0" y2="0"><stop offset="0.00" stop-color="#440154"/><stop offset="0.05" stop-color="#471365"/><stop offset="0.10" stop-color="#482475"/><stop offset="0.15" stop-color="#463480"/><stop offset="0.20" stop-color="#414487"/><stop offset="0.25" stop-color="#3b528b"/><stop offset="0.30" stop-color="#355f8d"/><stop offset="0.35" stop-color="#2f6c8e"/><stop offset="0.40" stop-color="#2a788e"/><stop offset="0.45" stop-color="#25848e"/><stop offset="0.50" stop-color="#21918c"/><stop offset="0.55" stop-color="#1e9c89"/><stop offset="0.60" stop-color="#22a884"/><stop offset="0.65" stop-color="#2fb47c"/><stop offset="0.70" stop-color="#44bf70"/><stop offset="0.75" stop-color="#5ec962"/><stop offset="0.80" stop-color="#7ad151"/><stop offset="0.85" stop-color="#9bd93c"/><stop offset="0.90" stop-color="#bddf26"/><stop offset="0.95" stop-color="#dfe318"/><stop offset="1.00" stop-color="#fde725"/></linearGradient></defs>
<rect x="421.0" y="589.6" width="245.3" height="12.6" fill="url(#vg)" stroke="#333" stroke-width="1"/>
<path d="M421.00,602.2v4.3M482.32,602.2v4.3M543.65,602.2v4.3M604.98,602.2v4.3M666.30,602.2v4.3" stroke="#333" stroke-width="1" fill="none"/>
<text x="421.00" y="624.3" font-size="15.6" fill="#111" text-anchor="middle" textLength="36.6" lengthAdjust="spacingAndGlyphs">0.00</text>
<text x="482.32" y="624.3" font-size="15.6" fill="#111" text-anchor="middle" textLength="36.6" lengthAdjust="spacingAndGlyphs">0.25</text>
<text x="543.65" y="624.3" font-size="15.6" fill="#111" text-anchor="middle" textLength="36.6" lengthAdjust="spacingAndGlyphs">0.50</text>
<text x="604.98" y="624.3" font-size="15.6" fill="#111" text-anchor="middle" textLength="36.6" lengthAdjust="spacingAndGlyphs">0.75</text>
<text x="666.30" y="624.3" font-size="15.6" fill="#111" text-anchor="middle" textLength="36.6" lengthAdjust="spacingAndGlyphs">1.00</text>
<text x="464.8" y="644.8" font-size="15.6" fill="#111" text-anchor="start" textLength="137.3" lengthAdjust="spacingAndGlyphs" stroke="#111" stroke-width="0.10">Normalized weight</text></svg>
</body></html>
